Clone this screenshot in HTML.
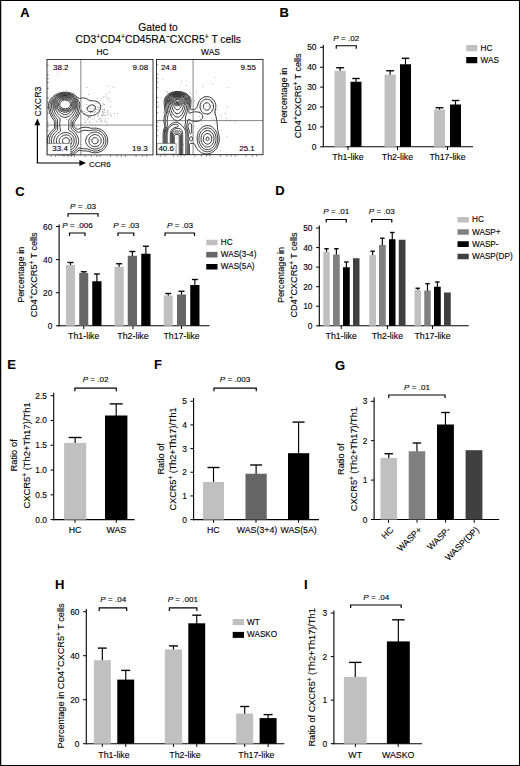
<!DOCTYPE html>
<html><head><meta charset="utf-8"><title>Figure</title>
<style>
html,body{margin:0;padding:0;background:#fff;}
body{width:520px;height:766px;overflow:hidden;font-family:"Liberation Sans",sans-serif;}
svg{display:block;font-family:"Liberation Sans",sans-serif;fill:#000;}
text{stroke:#000;stroke-width:0.12px;}
.ct path{fill:none;stroke:#000;stroke-width:0.75;}
</style></head><body>
<svg width="520" height="766" viewBox="0 0 520 766">
<rect x="0" y="0" width="520" height="766" fill="#fff"/>
<path d="M0,0H520V766H0Z M1.25,1.05H518.95V764.95H1.25Z" fill="#000" fill-rule="evenodd"/>

<text x="20.2" y="17.3" font-size="13" font-weight="bold" fill="#000" stroke="none">A</text>
<text x="279.5" y="17.1" font-size="13" font-weight="bold" fill="#000" stroke="none">B</text>
<text x="15.2" y="195.6" font-size="13" font-weight="bold" fill="#000" stroke="none">C</text>
<text x="275.3" y="195" font-size="13" font-weight="bold" fill="#000" stroke="none">D</text>
<text x="7.2" y="369.1" font-size="13" font-weight="bold" fill="#000" stroke="none">E</text>
<text x="153.9" y="369.1" font-size="13" font-weight="bold" fill="#000" stroke="none">F</text>
<text x="335.1" y="369.8" font-size="13" font-weight="bold" fill="#000" stroke="none">G</text>
<text x="55" y="588.8" font-size="13" font-weight="bold" fill="#000" stroke="none">H</text>
<text x="303.9" y="588.8" font-size="13" font-weight="bold" fill="#000" stroke="none">I</text>
<g id="A">
<text x="158.00" y="31.00" text-anchor="middle" font-size="10.3" >Gated to</text>
<text x="158.3" y="42.7" text-anchor="middle" font-size="10.3">CD3<tspan dy="-3.4" font-size="7">+</tspan><tspan dy="3.4" font-size="0.01">.</tspan>CD4<tspan dy="-3.4" font-size="7">+</tspan><tspan dy="3.4" font-size="0.01">.</tspan>CD45RA<tspan dy="-3.4" font-size="7">−</tspan><tspan dy="3.4" font-size="0.01">.</tspan>CXCR5<tspan dy="-3.4" font-size="7">+</tspan><tspan dy="3.4" font-size="0.01">.</tspan> T cells</text>
<text x="102.50" y="55.00" text-anchor="middle" font-size="8.4" >HC</text>
<text x="210.50" y="55.00" text-anchor="middle" font-size="8.4" >WAS</text>
<defs><clipPath id="cHC"><rect x="47" y="59.5" width="106" height="96"/></clipPath><clipPath id="cWAS"><rect x="156.5" y="59.5" width="106.5" height="95.5"/></clipPath></defs>
<rect x="47" y="59.5" width="106" height="96" fill="#fff"/>
<rect x="156.5" y="59.5" width="106.5" height="95.5" fill="#fff"/>
<g clip-path="url(#cHC)">
<rect x="98.2" y="114.6" width="0.7" height="0.7" fill="#666"/>
<rect x="98.4" y="107.2" width="0.7" height="0.7" fill="#666"/>
<rect x="93.5" y="108.1" width="0.7" height="0.7" fill="#666"/>
<rect x="107.8" y="113.8" width="0.7" height="0.7" fill="#666"/>
<rect x="107.3" y="112.2" width="0.7" height="0.7" fill="#666"/>
<rect x="102.8" y="111.7" width="0.7" height="0.7" fill="#666"/>
<rect x="88.3" y="117.7" width="0.7" height="0.7" fill="#666"/>
<rect x="103.5" y="114.5" width="0.7" height="0.7" fill="#666"/>
<rect x="88.2" y="94.3" width="0.7" height="0.7" fill="#666"/>
<rect x="93.8" y="105.8" width="0.7" height="0.7" fill="#666"/>
<rect x="102.1" y="109.6" width="0.7" height="0.7" fill="#666"/>
<rect x="103.6" y="104.2" width="0.7" height="0.7" fill="#666"/>
<rect x="102.2" y="113.5" width="0.7" height="0.7" fill="#666"/>
<rect x="95.4" y="125.5" width="0.7" height="0.7" fill="#666"/>
<rect x="103.9" y="120.8" width="0.7" height="0.7" fill="#666"/>
<rect x="95.7" y="103.3" width="0.7" height="0.7" fill="#666"/>
<rect x="97.6" y="109.0" width="0.7" height="0.7" fill="#666"/>
<rect x="104.4" y="112.2" width="0.7" height="0.7" fill="#666"/>
<rect x="96.9" y="101.4" width="0.7" height="0.7" fill="#666"/>
<rect x="96.4" y="121.0" width="0.7" height="0.7" fill="#666"/>
<rect x="94.3" y="112.2" width="0.7" height="0.7" fill="#666"/>
<rect x="103.0" y="96.6" width="0.7" height="0.7" fill="#666"/>
<rect x="100.3" y="121.8" width="0.7" height="0.7" fill="#666"/>
<rect x="85.9" y="107.1" width="0.7" height="0.7" fill="#666"/>
<rect x="99.3" y="102.6" width="0.7" height="0.7" fill="#666"/>
<rect x="103.5" y="109.4" width="0.7" height="0.7" fill="#666"/>
<rect x="89.7" y="117.5" width="0.7" height="0.7" fill="#666"/>
<rect x="104.7" y="118.5" width="0.7" height="0.7" fill="#666"/>
<rect x="110.1" y="113.3" width="0.7" height="0.7" fill="#666"/>
<rect x="100.8" y="98.3" width="0.7" height="0.7" fill="#666"/>
<rect x="104.3" y="104.5" width="0.7" height="0.7" fill="#666"/>
<rect x="96.8" y="98.6" width="0.7" height="0.7" fill="#666"/>
<rect x="93.2" y="105.2" width="0.7" height="0.7" fill="#666"/>
<rect x="109.0" y="91.7" width="0.7" height="0.7" fill="#666"/>
<rect x="89.8" y="112.2" width="0.7" height="0.7" fill="#666"/>
<rect x="110.1" y="115.2" width="0.7" height="0.7" fill="#666"/>
<rect x="86.7" y="87.3" width="0.7" height="0.7" fill="#666"/>
<rect x="102.5" y="103.4" width="0.7" height="0.7" fill="#666"/>
<rect x="92.2" y="118.8" width="0.7" height="0.7" fill="#666"/>
<rect x="107.7" y="111.4" width="0.7" height="0.7" fill="#666"/>
<rect x="101.7" y="113.9" width="0.7" height="0.7" fill="#666"/>
<rect x="111.2" y="115.6" width="0.7" height="0.7" fill="#666"/>
<rect x="103.6" y="114.9" width="0.7" height="0.7" fill="#666"/>
<rect x="89.0" y="121.5" width="0.7" height="0.7" fill="#666"/>
<rect x="106.7" y="114.8" width="0.7" height="0.7" fill="#666"/>
<rect x="86.2" y="104.3" width="0.7" height="0.7" fill="#666"/>
<rect x="105.9" y="93.7" width="0.7" height="0.7" fill="#666"/>
<rect x="98.7" y="119.2" width="0.7" height="0.7" fill="#666"/>
<rect x="90.8" y="124.5" width="0.7" height="0.7" fill="#666"/>
<rect x="103.9" y="108.6" width="0.7" height="0.7" fill="#666"/>
<rect x="102.3" y="115.8" width="0.7" height="0.7" fill="#666"/>
<rect x="100.8" y="120.3" width="0.7" height="0.7" fill="#666"/>
<rect x="95.4" y="106.3" width="0.7" height="0.7" fill="#666"/>
<rect x="107.3" y="110.2" width="0.7" height="0.7" fill="#666"/>
<rect x="93.8" y="118.5" width="0.7" height="0.7" fill="#666"/>
<rect x="110.3" y="106.0" width="0.7" height="0.7" fill="#666"/>
<rect x="90.3" y="108.8" width="0.7" height="0.7" fill="#666"/>
<rect x="99.0" y="107.3" width="0.7" height="0.7" fill="#666"/>
<rect x="109.8" y="100.8" width="0.7" height="0.7" fill="#666"/>
<rect x="108.8" y="98.6" width="0.7" height="0.7" fill="#666"/>
<rect x="94.5" y="115.7" width="0.7" height="0.7" fill="#666"/>
<rect x="107.9" y="117.7" width="0.7" height="0.7" fill="#666"/>
<rect x="102.4" y="111.3" width="0.7" height="0.7" fill="#666"/>
<rect x="101.1" y="115.2" width="0.7" height="0.7" fill="#666"/>
<rect x="98.8" y="112.5" width="0.7" height="0.7" fill="#666"/>
<rect x="104.0" y="110.0" width="0.7" height="0.7" fill="#666"/>
<rect x="105.3" y="115.1" width="0.7" height="0.7" fill="#666"/>
<rect x="114.1" y="112.9" width="0.7" height="0.7" fill="#666"/>
<rect x="97.0" y="106.6" width="0.7" height="0.7" fill="#666"/>
<rect x="99.9" y="118.3" width="0.7" height="0.7" fill="#666"/>
<rect x="97.6" y="113.5" width="0.7" height="0.7" fill="#666"/>
<rect x="112.9" y="86.9" width="0.7" height="0.7" fill="#666"/>
<rect x="92.1" y="112.2" width="0.7" height="0.7" fill="#666"/>
<rect x="102.8" y="112.1" width="0.7" height="0.7" fill="#666"/>
<rect x="97.0" y="115.9" width="0.7" height="0.7" fill="#666"/>
<rect x="102.0" y="105.3" width="0.7" height="0.7" fill="#666"/>
<rect x="117.0" y="113.2" width="0.7" height="0.7" fill="#666"/>
<rect x="96.1" y="109.1" width="0.7" height="0.7" fill="#666"/>
<rect x="98.4" y="109.4" width="0.7" height="0.7" fill="#666"/>
<rect x="80.9" y="105.6" width="0.7" height="0.7" fill="#666"/>
<rect x="107.1" y="99.5" width="0.7" height="0.7" fill="#666"/>
<rect x="99.5" y="118.6" width="0.7" height="0.7" fill="#666"/>
<rect x="106.0" y="123.4" width="0.7" height="0.7" fill="#666"/>
<rect x="88.1" y="106.8" width="0.7" height="0.7" fill="#666"/>
<rect x="97.6" y="115.6" width="0.7" height="0.7" fill="#666"/>
<rect x="107.6" y="85.9" width="0.7" height="0.7" fill="#666"/>
<rect x="107.6" y="97.0" width="0.7" height="0.7" fill="#666"/>
<rect x="104.8" y="96.6" width="0.7" height="0.7" fill="#666"/>
<rect x="101.2" y="120.8" width="0.7" height="0.7" fill="#666"/>
<rect x="99.0" y="111.7" width="0.7" height="0.7" fill="#666"/>
<rect x="87.2" y="118.8" width="0.7" height="0.7" fill="#666"/>
<rect x="83.6" y="127.2" width="0.7" height="0.7" fill="#666"/>
<rect x="88.2" y="116.2" width="0.7" height="0.7" fill="#666"/>
<rect x="95.0" y="111.1" width="0.7" height="0.7" fill="#666"/>
<rect x="87.7" y="116.4" width="0.7" height="0.7" fill="#666"/>
<rect x="84.5" y="122.2" width="0.7" height="0.7" fill="#666"/>
<rect x="84.9" y="121.8" width="0.7" height="0.7" fill="#666"/>
<rect x="77.9" y="108.9" width="0.7" height="0.7" fill="#666"/>
<rect x="86.5" y="112.2" width="0.7" height="0.7" fill="#666"/>
<rect x="79.9" y="109.2" width="0.7" height="0.7" fill="#666"/>
<rect x="89.1" y="122.5" width="0.7" height="0.7" fill="#666"/>
<rect x="89.9" y="112.4" width="0.7" height="0.7" fill="#666"/>
<rect x="84.0" y="111.2" width="0.7" height="0.7" fill="#666"/>
<rect x="87.1" y="127.5" width="0.7" height="0.7" fill="#666"/>
<rect x="80.4" y="127.4" width="0.7" height="0.7" fill="#666"/>
<rect x="88.0" y="116.9" width="0.7" height="0.7" fill="#666"/>
<rect x="76.1" y="126.4" width="0.7" height="0.7" fill="#666"/>
<rect x="83.6" y="114.4" width="0.7" height="0.7" fill="#666"/>
<rect x="85.6" y="120.5" width="0.7" height="0.7" fill="#666"/>
<rect x="90.0" y="111.9" width="0.7" height="0.7" fill="#666"/>
<rect x="88.5" y="126.9" width="0.7" height="0.7" fill="#666"/>
<rect x="89.8" y="116.9" width="0.7" height="0.7" fill="#666"/>
<rect x="81.0" y="124.1" width="0.7" height="0.7" fill="#666"/>
<rect x="84.5" y="118.7" width="0.7" height="0.7" fill="#666"/>
<rect x="89.7" y="116.4" width="0.7" height="0.7" fill="#666"/>
<rect x="76.3" y="105.3" width="0.7" height="0.7" fill="#666"/>
<rect x="69.8" y="140.0" width="0.7" height="0.7" fill="#666"/>
<rect x="71.6" y="151.8" width="0.7" height="0.7" fill="#666"/>
<rect x="68.8" y="145.0" width="0.7" height="0.7" fill="#666"/>
<rect x="56.6" y="141.1" width="0.7" height="0.7" fill="#666"/>
<rect x="66.2" y="119.3" width="0.7" height="0.7" fill="#666"/>
<rect x="58.2" y="125.6" width="0.7" height="0.7" fill="#666"/>
<rect x="105.8" y="121.1" width="0.7" height="0.7" fill="#666"/>
<rect x="80.6" y="144.0" width="0.7" height="0.7" fill="#666"/>
<rect x="66.0" y="89.8" width="0.7" height="0.7" fill="#666"/>
<rect x="58.9" y="145.8" width="0.7" height="0.7" fill="#666"/>
<rect x="90.1" y="139.0" width="0.7" height="0.7" fill="#666"/>
<rect x="70.2" y="139.3" width="0.7" height="0.7" fill="#666"/>
<rect x="73.3" y="91.7" width="0.7" height="0.7" fill="#666"/>
<rect x="88.5" y="106.4" width="0.7" height="0.7" fill="#666"/>
<rect x="52.0" y="101.5" width="0.7" height="0.7" fill="#666"/>
<rect x="57.2" y="73.4" width="0.7" height="0.7" fill="#666"/>
<rect x="84.5" y="113.4" width="0.7" height="0.7" fill="#666"/>
<g class="ct">
<path d="M68.5,156.0 L65.0,156.2 L61.5,155.7 L58.0,154.7 L54.5,152.9 L53.0,151.8 L51.6,150.5 L49.5,148.0 L48.7,146.5 L48.1,145.0 L47.4,142.0 L47.4,140.5 L47.6,138.5 L48.1,136.5 L48.7,135.0 L50.6,132.0 L54.1,128.5 L54.3,128.0 L54.6,127.0 L54.5,122.5 L54.3,121.0 L51.9,117.5 L50.8,115.5 L49.7,113.0 L49.1,110.5 L48.7,108.0 L48.5,105.5 L48.7,103.5 L49.2,102.0 L49.8,100.5 L51.1,98.5 L52.5,97.0 L54.5,95.4 L56.5,94.2 L58.5,93.3 L60.5,92.7 L63.5,92.2 L67.5,92.3 L69.5,92.6 L71.5,93.3 L74.5,94.8 L76.0,96.0 L78.0,97.9 L79.0,98.4 L79.5,98.4 L82.5,97.9 L85.0,98.1 L87.0,98.9 L89.0,100.2 L90.0,100.7 L93.5,100.8 L95.5,101.1 L97.5,101.9 L99.0,103.0 L100.1,104.5 L100.6,106.0 L100.7,107.5 L100.3,109.5 L99.5,111.0 L98.0,112.7 L96.3,114.0 L94.5,114.9 L92.5,115.6 L90.5,115.8 L88.5,115.8 L86.5,115.3 L85.0,114.6 L84.0,113.9 L82.7,112.5 L81.5,110.5 L81.0,110.4 L80.5,111.1 L77.6,117.5 L76.3,119.5 L74.5,121.7 L74.1,122.5 L73.9,124.0 L74.0,126.4 L74.3,127.0 L75.0,127.8 L76.5,128.9 L77.5,129.3 L78.5,129.1 L80.5,128.2 L82.0,127.6 L85.0,127.2 L87.5,127.4 L91.0,128.3 L94.5,128.1 L96.5,128.2 L98.5,128.6 L100.0,129.1 L101.5,129.9 L103.0,130.9 L104.2,132.0 L105.4,133.5 L106.3,135.0 L107.0,136.5 L107.4,138.0 L107.7,140.0 L107.7,142.0 L107.4,143.5 L106.7,145.5 L105.9,147.0 L104.7,148.5 L103.5,149.7 L102.0,150.8 L100.0,151.8 L97.0,152.7 L94.0,152.8 L91.5,152.3 L88.0,151.1 L83.5,151.0 L80.0,150.3 L79.0,150.3 L78.0,150.8 L75.5,153.1 L73.5,154.4 L71.0,155.4 L68.5,156.0"/>
<path d="M68.0,154.6 L64.5,154.6 L61.0,154.0 L58.0,153.0 L55.0,151.3 L52.9,149.5 L50.9,147.0 L49.8,144.5 L49.4,143.0 L49.2,141.5 L49.5,138.5 L49.9,137.0 L50.5,135.5 L51.3,134.0 L52.4,132.5 L55.5,129.5 L55.8,129.0 L56.0,128.0 L55.9,121.5 L55.7,120.5 L55.2,119.5 L53.5,117.2 L52.2,115.0 L51.1,112.5 L50.4,110.0 L50.1,107.5 L50.0,105.5 L50.1,104.0 L50.5,102.5 L51.3,100.5 L52.3,99.0 L53.7,97.5 L55.5,96.0 L57.5,94.8 L59.5,94.0 L62.0,93.3 L64.0,93.1 L66.5,93.1 L69.0,93.5 L71.5,94.3 L73.5,95.3 L75.5,96.9 L77.0,98.5 L78.7,101.0 L79.6,103.0 L79.8,104.5 L79.7,106.0 L78.7,111.0 L77.9,113.5 L76.2,117.0 L75.0,118.8 L73.1,121.0 L72.7,122.0 L72.6,127.0 L73.0,128.0 L73.4,128.5 L77.5,132.0 L78.5,132.4 L79.0,132.3 L82.0,130.8 L84.0,130.3 L86.0,130.3 L89.5,130.8 L93.0,130.1 L95.0,129.9 L97.0,130.1 L98.5,130.5 L100.0,131.1 L101.4,132.0 L103.5,134.0 L104.5,135.5 L105.2,137.0 L105.7,138.5 L105.9,140.0 L105.9,141.5 L105.6,143.0 L105.2,144.5 L104.4,146.0 L103.3,147.5 L102.0,148.7 L100.5,149.7 L99.0,150.4 L96.5,151.0 L93.5,151.0 L91.5,150.5 L87.5,148.9 L83.5,148.8 L82.0,148.6 L80.0,148.0 L79.0,147.9 L78.0,148.5 L75.6,151.0 L73.5,152.6 L71.0,153.8 L68.0,154.6"/>
<path d="M92.0,111.5 L90.0,111.6 L88.5,111.1 L87.5,110.2 L87.1,109.0 L87.4,107.5 L88.1,106.5 L89.5,105.5 L91.5,104.9 L93.0,105.0 L94.1,105.5 L95.2,106.5 L95.5,107.5 L95.2,109.0 L94.6,110.0 L93.5,110.9 L92.0,111.5"/>
<path d="M66.5,153.0 L63.5,152.8 L60.5,152.1 L58.0,151.0 L55.7,149.5 L53.7,147.5 L52.4,145.5 L51.6,143.5 L51.3,141.0 L51.4,139.5 L51.7,138.0 L52.8,135.5 L54.5,133.1 L57.3,130.5 L57.6,130.0 L57.7,129.0 L57.4,125.0 L57.5,120.0 L57.1,119.0 L55.1,116.5 L54.1,115.0 L53.3,113.5 L52.5,111.5 L51.9,109.0 L51.5,106.5 L51.5,104.5 L51.8,102.5 L52.7,100.5 L53.6,99.0 L55.0,97.5 L56.5,96.3 L58.5,95.2 L60.5,94.5 L63.0,93.9 L65.0,93.8 L67.5,94.0 L70.0,94.6 L72.0,95.4 L74.0,96.7 L75.8,98.5 L77.1,100.5 L77.8,102.5 L78.1,104.5 L78.0,106.5 L77.6,109.0 L77.0,111.5 L76.3,113.5 L75.5,115.1 L74.5,116.7 L72.0,119.5 L71.3,120.5 L71.1,121.5 L71.0,127.5 L71.1,128.5 L71.3,129.0 L75.0,132.2 L76.0,133.5 L77.2,135.5 L78.2,138.0 L78.5,139.5 L78.6,141.5 L78.4,143.0 L77.8,145.0 L76.7,147.0 L75.5,148.7 L74.0,150.2 L72.5,151.3 L70.5,152.2 L68.5,152.8 L66.5,153.0"/>
<path d="M96.0,149.0 L94.0,149.0 L92.5,148.7 L91.0,148.2 L89.5,147.3 L88.0,146.0 L86.8,144.5 L86.0,143.0 L85.7,141.5 L85.7,140.0 L86.2,138.0 L86.7,137.0 L87.7,135.5 L89.0,134.3 L90.5,133.2 L92.1,132.5 L94.0,132.1 L96.0,132.1 L97.5,132.4 L99.0,133.0 L100.5,133.9 L101.6,135.0 L102.7,136.5 L103.3,138.0 L103.8,140.0 L103.8,141.5 L103.5,143.0 L102.9,144.5 L101.8,146.0 L100.8,147.0 L99.3,148.0 L97.5,148.7 L96.0,149.0"/>
<path d="M66.5,151.0 L64.5,150.9 L62.5,150.6 L60.5,149.9 L58.7,149.0 L57.3,148.0 L55.8,146.5 L54.8,145.0 L54.2,143.5 L53.8,142.0 L53.8,140.5 L54.1,138.5 L54.7,137.0 L55.6,135.5 L56.5,134.4 L57.5,133.4 L60.0,131.5 L60.4,131.0 L60.5,130.0 L60.0,127.4 L59.7,125.0 L59.8,122.5 L60.1,120.0 L60.0,119.0 L59.4,118.0 L56.9,115.5 L55.2,113.0 L54.3,111.0 L53.3,108.0 L52.8,105.0 L52.9,103.0 L53.6,101.0 L54.5,99.5 L56.0,97.9 L57.9,96.5 L60.0,95.5 L62.5,94.8 L65.0,94.6 L67.5,94.8 L69.5,95.3 L71.5,96.1 L73.5,97.4 L75.0,99.0 L76.0,100.5 L76.7,102.5 L77.0,104.5 L76.9,106.0 L76.4,108.0 L75.0,111.9 L74.3,113.5 L72.5,116.1 L71.5,117.2 L69.3,119.0 L69.0,119.5 L68.8,120.5 L68.9,125.0 L68.5,129.0 L68.7,130.0 L69.0,130.4 L71.5,131.9 L72.9,133.0 L74.0,134.2 L75.0,135.7 L75.8,137.5 L76.2,139.5 L76.3,141.5 L76.1,143.0 L75.7,144.5 L75.0,146.0 L73.9,147.5 L72.5,148.9 L71.0,149.8 L69.5,150.5 L68.0,150.9 L66.5,151.0"/>
<path d="M96.0,146.6 L94.5,146.6 L93.5,146.5 L92.5,146.1 L91.3,145.5 L90.2,144.5 L89.5,143.5 L88.9,141.5 L88.9,140.0 L89.1,139.0 L89.5,138.0 L90.1,137.0 L91.0,136.1 L91.8,135.5 L93.0,134.9 L94.0,134.7 L95.5,134.6 L96.5,134.8 L98.5,135.7 L99.5,136.5 L100.2,137.5 L100.8,138.5 L101.1,140.0 L101.2,141.0 L101.0,142.2 L100.5,143.5 L100.0,144.2 L99.0,145.2 L98.0,145.9 L96.0,146.6"/>
<path d="M67.0,117.1 L65.0,117.4 L63.5,117.2 L61.5,116.4 L59.5,115.0 L58.0,113.4 L56.0,110.4 L54.9,108.5 L54.1,106.5 L53.9,104.5 L54.0,103.0 L54.5,101.5 L55.3,100.0 L56.5,98.7 L58.0,97.5 L60.0,96.4 L62.0,95.8 L64.0,95.5 L66.5,95.5 L68.5,95.8 L70.5,96.5 L72.2,97.5 L73.9,99.0 L74.9,100.5 L75.7,102.5 L76.0,104.5 L75.7,106.5 L75.2,108.0 L74.0,110.2 L72.0,113.4 L70.6,115.0 L69.0,116.2 L67.0,117.1"/>
<path d="M68.5,148.6 L67.0,148.9 L65.0,148.9 L63.0,148.5 L61.5,148.0 L60.0,147.1 L58.6,146.0 L57.7,145.0 L56.9,143.5 L56.5,142.0 L56.4,140.5 L56.7,139.0 L57.3,137.5 L58.3,136.0 L59.3,135.0 L60.5,134.1 L62.0,133.4 L64.0,132.7 L65.5,132.5 L67.5,132.7 L69.0,133.1 L70.5,133.9 L71.5,134.6 L72.7,136.0 L73.5,137.5 L74.0,139.0 L74.2,141.0 L74.1,142.5 L73.5,144.3 L72.5,145.9 L71.5,147.0 L70.0,148.0 L68.5,148.6"/>
<path d="M96.0,143.7 L94.5,143.8 L93.5,143.5 L92.5,142.7 L91.9,141.5 L91.9,140.0 L92.3,139.0 L93.0,138.3 L94.0,137.7 L95.5,137.6 L96.5,137.9 L97.5,138.8 L98.0,139.6 L98.2,141.0 L97.9,142.0 L97.2,143.0 L96.0,143.7"/>
<path d="M66.0,114.6 L64.5,114.6 L63.0,114.2 L61.5,113.5 L60.0,112.4 L58.0,110.6 L56.5,108.9 L55.5,107.2 L55.0,105.5 L54.9,104.0 L55.2,102.5 L55.9,101.0 L57.0,99.5 L58.5,98.2 L60.0,97.4 L61.5,96.8 L63.5,96.3 L65.5,96.2 L67.5,96.4 L69.4,97.0 L71.0,97.8 L72.6,99.0 L73.8,100.5 L74.6,102.0 L74.9,103.5 L75.0,105.0 L74.7,106.5 L74.1,108.0 L73.0,109.6 L71.5,111.2 L69.0,113.3 L67.5,114.2 L66.0,114.6"/>
<path d="M67.5,146.6 L66.5,146.7 L65.0,146.6 L63.5,146.2 L62.5,145.8 L60.7,144.5 L59.9,143.5 L59.4,142.5 L59.2,141.5 L59.2,140.5 L59.4,139.5 L59.8,138.5 L60.5,137.5 L61.5,136.5 L63.5,135.4 L65.0,135.0 L66.0,134.9 L67.5,135.1 L68.5,135.4 L69.5,136.0 L70.5,136.9 L71.2,138.0 L71.7,139.0 L71.9,140.0 L72.0,141.5 L71.4,143.5 L70.8,144.5 L69.8,145.5 L68.5,146.2 L67.5,146.6"/>
<path d="M67.0,112.1 L65.5,112.3 L64.0,112.2 L62.5,111.8 L61.0,111.2 L59.5,110.3 L58.5,109.5 L57.5,108.5 L56.6,107.0 L56.2,106.0 L56.0,104.5 L56.2,103.0 L56.5,102.0 L57.5,100.5 L58.4,99.5 L59.5,98.7 L60.8,98.0 L62.5,97.4 L64.5,97.1 L66.5,97.2 L68.5,97.6 L70.0,98.3 L71.5,99.3 L72.6,100.5 L73.5,102.0 L73.9,103.5 L73.9,105.0 L73.6,106.5 L72.9,108.0 L72.0,109.2 L70.5,110.5 L69.0,111.4 L67.0,112.1"/>
<path d="M67.0,144.1 L66.0,144.2 L64.5,143.8 L63.2,143.0 L62.6,142.0 L62.4,140.5 L62.8,139.5 L63.5,138.6 L64.5,138.0 L66.0,137.6 L67.0,137.8 L68.4,138.5 L69.1,139.5 L69.4,141.0 L69.0,142.5 L68.2,143.5 L67.0,144.1"/>
<path d="M65.5,111.0 L64.0,110.9 L62.5,110.6 L61.0,110.0 L60.0,109.4 L59.0,108.5 L58.2,107.5 L57.6,106.5 L57.2,105.0 L57.3,103.5 L57.6,102.5 L58.1,101.5 L59.0,100.4 L60.1,99.5 L61.5,98.7 L63.0,98.3 L64.5,98.0 L66.0,98.0 L67.5,98.3 L69.0,98.8 L70.2,99.5 L71.3,100.5 L72.1,101.5 L72.5,102.5 L72.9,104.0 L72.8,105.5 L72.5,106.5 L72.0,107.5 L71.0,108.7 L70.0,109.6 L68.5,110.4 L67.0,110.8 L65.5,111.0"/>
<path d="M67.5,109.6 L65.5,110.0 L63.0,109.6 L61.0,108.7 L59.5,107.4 L58.7,106.0 L58.5,105.0 L58.4,104.0 L58.7,103.0 L59.1,102.0 L60.5,100.5 L61.5,99.9 L63.0,99.3 L64.5,99.0 L66.0,99.0 L67.5,99.3 L68.5,99.7 L69.8,100.5 L70.7,101.5 L71.3,102.5 L71.6,103.5 L71.7,105.0 L71.5,106.0 L71.0,107.0 L70.0,108.2 L68.9,109.0 L67.5,109.6"/>
<path d="M67.0,108.6 L65.5,108.9 L63.5,108.6 L62.0,108.0 L60.5,106.6 L59.9,105.5 L59.8,104.0 L60.3,102.5 L61.5,101.2 L62.5,100.6 L63.5,100.3 L65.0,100.0 L66.0,100.1 L68.0,100.7 L69.0,101.4 L69.6,102.0 L70.2,103.0 L70.5,104.0 L70.4,105.0 L70.1,106.0 L69.0,107.5 L68.0,108.2 L67.0,108.6"/>
</g></g>
<g clip-path="url(#cWAS)">
<rect x="210.9" y="102.5" width="0.7" height="0.7" fill="#666"/>
<rect x="215.8" y="117.0" width="0.7" height="0.7" fill="#666"/>
<rect x="214.7" y="111.9" width="0.7" height="0.7" fill="#666"/>
<rect x="221.3" y="115.9" width="0.7" height="0.7" fill="#666"/>
<rect x="212.5" y="83.0" width="0.7" height="0.7" fill="#666"/>
<rect x="217.0" y="123.7" width="0.7" height="0.7" fill="#666"/>
<rect x="205.0" y="102.4" width="0.7" height="0.7" fill="#666"/>
<rect x="227.4" y="86.9" width="0.7" height="0.7" fill="#666"/>
<rect x="212.7" y="137.1" width="0.7" height="0.7" fill="#666"/>
<rect x="198.7" y="116.3" width="0.7" height="0.7" fill="#666"/>
<rect x="226.9" y="106.6" width="0.7" height="0.7" fill="#666"/>
<rect x="213.6" y="118.8" width="0.7" height="0.7" fill="#666"/>
<rect x="198.9" y="106.9" width="0.7" height="0.7" fill="#666"/>
<rect x="210.9" y="117.9" width="0.7" height="0.7" fill="#666"/>
<rect x="207.7" y="105.7" width="0.7" height="0.7" fill="#666"/>
<rect x="197.8" y="103.7" width="0.7" height="0.7" fill="#666"/>
<rect x="216.9" y="109.2" width="0.7" height="0.7" fill="#666"/>
<rect x="199.5" y="97.9" width="0.7" height="0.7" fill="#666"/>
<rect x="234.7" y="121.7" width="0.7" height="0.7" fill="#666"/>
<rect x="214.4" y="76.9" width="0.7" height="0.7" fill="#666"/>
<rect x="214.2" y="113.8" width="0.7" height="0.7" fill="#666"/>
<rect x="224.8" y="113.1" width="0.7" height="0.7" fill="#666"/>
<rect x="207.3" y="114.3" width="0.7" height="0.7" fill="#666"/>
<rect x="188.6" y="120.4" width="0.7" height="0.7" fill="#666"/>
<rect x="211.2" y="99.6" width="0.7" height="0.7" fill="#666"/>
<rect x="221.3" y="129.7" width="0.7" height="0.7" fill="#666"/>
<rect x="194.0" y="100.0" width="0.7" height="0.7" fill="#666"/>
<rect x="210.9" y="110.2" width="0.7" height="0.7" fill="#666"/>
<rect x="204.0" y="96.3" width="0.7" height="0.7" fill="#666"/>
<rect x="229.2" y="120.4" width="0.7" height="0.7" fill="#666"/>
<rect x="196.1" y="91.9" width="0.7" height="0.7" fill="#666"/>
<rect x="225.0" y="119.9" width="0.7" height="0.7" fill="#666"/>
<rect x="226.2" y="117.7" width="0.7" height="0.7" fill="#666"/>
<rect x="199.3" y="111.1" width="0.7" height="0.7" fill="#666"/>
<rect x="186.4" y="99.0" width="0.7" height="0.7" fill="#666"/>
<rect x="207.4" y="114.3" width="0.7" height="0.7" fill="#666"/>
<rect x="200.7" y="106.5" width="0.7" height="0.7" fill="#666"/>
<rect x="212.6" y="112.5" width="0.7" height="0.7" fill="#666"/>
<rect x="214.4" y="110.5" width="0.7" height="0.7" fill="#666"/>
<rect x="204.8" y="117.5" width="0.7" height="0.7" fill="#666"/>
<rect x="168.2" y="96.7" width="0.7" height="0.7" fill="#666"/>
<rect x="164.9" y="105.0" width="0.7" height="0.7" fill="#666"/>
<rect x="167.5" y="106.6" width="0.7" height="0.7" fill="#666"/>
<rect x="168.0" y="106.8" width="0.7" height="0.7" fill="#666"/>
<rect x="167.3" y="92.4" width="0.7" height="0.7" fill="#666"/>
<rect x="170.1" y="115.5" width="0.7" height="0.7" fill="#666"/>
<rect x="170.2" y="103.1" width="0.7" height="0.7" fill="#666"/>
<rect x="170.2" y="95.3" width="0.7" height="0.7" fill="#666"/>
<rect x="158.5" y="105.6" width="0.7" height="0.7" fill="#666"/>
<rect x="163.3" y="112.4" width="0.7" height="0.7" fill="#666"/>
<rect x="162.6" y="78.7" width="0.7" height="0.7" fill="#666"/>
<rect x="162.8" y="120.8" width="0.7" height="0.7" fill="#666"/>
<rect x="166.1" y="91.3" width="0.7" height="0.7" fill="#666"/>
<rect x="164.2" y="110.2" width="0.7" height="0.7" fill="#666"/>
<rect x="170.5" y="106.8" width="0.7" height="0.7" fill="#666"/>
<rect x="175.4" y="112.1" width="0.7" height="0.7" fill="#666"/>
<rect x="167.9" y="111.0" width="0.7" height="0.7" fill="#666"/>
<rect x="176.3" y="114.7" width="0.7" height="0.7" fill="#666"/>
<rect x="173.1" y="94.2" width="0.7" height="0.7" fill="#666"/>
<rect x="167.3" y="112.3" width="0.7" height="0.7" fill="#666"/>
<rect x="166.5" y="115.7" width="0.7" height="0.7" fill="#666"/>
<rect x="171.0" y="114.1" width="0.7" height="0.7" fill="#666"/>
<rect x="166.9" y="130.5" width="0.7" height="0.7" fill="#666"/>
<rect x="174.2" y="102.8" width="0.7" height="0.7" fill="#666"/>
<rect x="168.5" y="131.0" width="0.7" height="0.7" fill="#666"/>
<rect x="183.1" y="144.2" width="0.7" height="0.7" fill="#666"/>
<rect x="209.6" y="125.1" width="0.7" height="0.7" fill="#666"/>
<rect x="166.7" y="129.1" width="0.7" height="0.7" fill="#666"/>
<rect x="197.2" y="149.9" width="0.7" height="0.7" fill="#666"/>
<rect x="205.7" y="125.5" width="0.7" height="0.7" fill="#666"/>
<rect x="207.1" y="136.9" width="0.7" height="0.7" fill="#666"/>
<rect x="194.1" y="126.2" width="0.7" height="0.7" fill="#666"/>
<rect x="185.1" y="140.1" width="0.7" height="0.7" fill="#666"/>
<rect x="168.9" y="111.2" width="0.7" height="0.7" fill="#666"/>
<rect x="190.1" y="92.8" width="0.7" height="0.7" fill="#666"/>
<rect x="181.3" y="80.8" width="0.7" height="0.7" fill="#666"/>
<rect x="176.3" y="137.5" width="0.7" height="0.7" fill="#666"/>
<rect x="201.3" y="123.8" width="0.7" height="0.7" fill="#666"/>
<rect x="185.4" y="93.8" width="0.7" height="0.7" fill="#666"/>
<rect x="226.6" y="136.4" width="0.7" height="0.7" fill="#666"/>
<rect x="211.9" y="105.6" width="0.7" height="0.7" fill="#666"/>
<rect x="186.3" y="85.0" width="0.7" height="0.7" fill="#666"/>
<rect x="205.6" y="145.6" width="0.7" height="0.7" fill="#666"/>
<rect x="202.6" y="86.2" width="0.7" height="0.7" fill="#666"/>
<rect x="177.4" y="94.1" width="0.7" height="0.7" fill="#666"/>
<rect x="190.6" y="130.5" width="0.7" height="0.7" fill="#666"/>
<rect x="202.7" y="140.4" width="0.7" height="0.7" fill="#666"/>
<rect x="220.1" y="150.6" width="0.7" height="0.7" fill="#666"/>
<g class="ct">
<path d="M169.0,165.5 L167.0,165.3 L166.0,164.8 L164.9,164.0 L164.1,163.0 L163.6,162.0 L163.3,161.0 L163.1,159.5 L163.1,133.0 L163.6,130.0 L164.5,127.5 L164.7,126.5 L164.0,122.5 L163.9,120.0 L164.2,117.0 L165.1,113.5 L165.2,112.5 L164.3,106.0 L164.2,102.0 L164.3,100.5 L164.7,99.0 L165.6,97.0 L167.0,95.3 L169.0,93.7 L171.0,92.6 L174.0,91.7 L177.0,91.4 L180.5,91.6 L183.0,92.2 L185.5,93.2 L187.0,94.1 L188.7,95.5 L189.9,97.0 L190.6,98.5 L190.8,99.5 L191.0,101.0 L190.6,108.5 L190.9,109.5 L191.5,109.7 L193.0,109.6 L195.0,109.1 L196.0,108.6 L196.5,108.1 L197.0,107.1 L198.3,103.0 L199.3,101.0 L200.9,99.0 L202.5,97.8 L204.5,96.9 L207.0,96.6 L209.5,97.0 L211.5,98.0 L213.0,99.3 L214.3,101.0 L215.1,102.5 L215.7,104.5 L215.9,106.0 L215.8,107.5 L215.0,111.5 L215.0,113.0 L216.0,116.6 L216.7,120.0 L217.2,123.5 L217.6,129.5 L218.8,134.5 L219.2,137.0 L219.3,140.0 L218.8,143.0 L217.8,146.0 L216.8,148.0 L215.7,149.5 L214.5,150.8 L213.0,151.9 L211.5,152.8 L210.0,153.4 L208.0,153.9 L206.0,154.0 L204.5,153.8 L203.0,153.4 L201.5,152.7 L200.0,151.7 L199.0,150.9 L197.7,149.5 L196.6,148.0 L194.5,144.0 L194.0,143.4 L193.5,143.3 L190.0,143.7 L189.5,144.5 L189.4,145.5 L189.4,159.0 L189.3,160.5 L189.0,161.5 L188.6,162.5 L188.0,163.3 L186.5,164.4 L185.0,164.9 L183.0,164.8 L181.5,164.1 L180.5,163.2 L179.8,162.0 L179.3,160.5 L179.2,158.5 L179.2,137.0 L179.1,135.5 L178.9,135.0 L178.5,134.7 L178.0,134.5 L176.0,134.5 L175.0,134.7 L174.5,135.3 L174.3,136.5 L174.3,158.5 L174.1,161.0 L173.6,162.5 L172.5,164.0 L171.5,164.8 L170.5,165.2 L169.0,165.5"/>
<path d="M191.1,133.5 L191.5,133.0 L191.7,132.5 L191.6,125.0 L191.3,124.0 L190.9,123.5 L190.0,123.1 L189.5,123.1 L189.0,123.4 L188.5,124.3 L188.0,126.0 L187.9,127.0 L189.2,130.5 L189.6,132.5 L189.9,133.5 L190.5,133.7 L191.1,133.5"/>
<path d="M170.5,164.1 L169.5,164.4 L168.5,164.5 L167.5,164.3 L166.5,163.9 L165.5,163.1 L165.0,162.5 L164.5,161.5 L164.2,160.0 L164.2,133.0 L164.7,130.0 L165.9,126.5 L165.9,125.5 L165.3,122.5 L165.2,120.0 L165.5,117.5 L166.5,113.0 L165.6,106.0 L165.4,102.5 L165.4,100.5 L165.9,98.5 L166.7,97.0 L168.0,95.5 L170.0,94.1 L172.0,93.2 L174.5,92.5 L177.0,92.2 L179.5,92.3 L182.5,92.9 L185.5,94.2 L186.8,95.0 L187.9,96.0 L188.7,97.0 L189.3,98.0 L189.8,99.5 L190.0,101.0 L188.9,110.5 L188.9,112.0 L189.1,113.0 L189.5,113.3 L192.5,112.2 L194.5,111.8 L197.0,111.9 L199.0,112.3 L201.0,113.2 L201.9,114.0 L202.6,115.5 L202.7,117.0 L202.2,118.5 L201.0,119.8 L199.5,120.7 L197.5,121.3 L195.5,121.5 L193.0,121.2 L191.5,120.7 L189.0,119.3 L188.5,119.2 L188.0,119.8 L186.5,126.5 L186.7,127.5 L187.9,131.0 L188.5,136.3 L189.0,138.5 L188.9,139.5 L188.5,141.3 L188.3,144.0 L188.2,159.5 L188.0,161.0 L187.5,162.0 L186.6,163.0 L185.5,163.6 L184.0,163.8 L182.5,163.3 L181.5,162.6 L181.1,162.0 L180.5,160.5 L180.4,158.5 L180.4,136.0 L180.1,134.0 L179.5,133.2 L179.0,133.0 L175.0,133.0 L174.5,133.1 L173.9,133.5 L173.4,134.5 L173.3,136.0 L173.2,160.0 L172.9,161.5 L172.4,162.5 L171.5,163.5 L170.5,164.1"/>
<path d="M209.0,113.5 L207.5,113.9 L206.0,113.9 L204.5,113.6 L203.1,113.0 L202.4,112.5 L201.6,111.5 L200.5,109.0 L200.1,107.5 L200.1,106.0 L200.3,104.5 L200.9,103.0 L201.5,102.0 L202.5,100.9 L203.7,100.0 L205.0,99.4 L206.0,99.2 L207.5,99.2 L208.8,99.5 L210.0,100.0 L211.3,101.0 L212.1,102.0 L212.7,103.0 L213.3,104.5 L213.5,106.0 L213.5,107.5 L213.1,109.0 L212.7,110.0 L212.0,111.2 L211.0,112.3 L210.0,113.0 L209.0,113.5"/>
<path d="M209.5,151.6 L207.5,151.8 L205.5,151.6 L203.5,150.8 L201.5,149.4 L199.8,147.5 L198.6,145.5 L197.7,143.0 L197.2,140.5 L197.1,138.0 L197.4,135.5 L198.2,132.5 L199.3,130.5 L200.8,128.5 L202.5,127.1 L204.5,126.1 L206.5,125.6 L208.5,125.6 L210.5,126.1 L212.5,127.2 L213.9,128.5 L215.5,130.5 L216.5,132.5 L217.2,134.5 L217.7,137.0 L217.8,139.5 L217.5,142.0 L216.7,144.5 L215.8,146.5 L214.5,148.3 L213.0,149.8 L211.5,150.8 L209.5,151.6"/>
<path d="M192.0,140.7 L191.5,141.0 L191.0,141.0 L190.5,140.7 L189.8,140.0 L189.5,139.2 L189.2,139.0 L189.3,138.5 L189.5,138.4 L189.9,137.5 L190.5,136.9 L191.0,136.6 L191.5,136.6 L192.0,136.9 L192.6,138.0 L192.6,139.5 L192.0,140.7"/>
<path d="M169.0,163.5 L167.5,163.3 L166.2,162.5 L165.8,162.0 L165.3,161.0 L165.1,159.5 L165.1,133.0 L165.6,130.0 L167.6,125.5 L167.6,124.5 L167.2,122.0 L167.2,120.0 L167.4,118.0 L168.1,115.0 L168.2,114.0 L167.0,107.0 L166.4,101.5 L166.4,100.0 L166.9,98.5 L167.7,97.0 L169.2,95.5 L171.0,94.4 L173.0,93.5 L175.0,93.1 L177.5,92.9 L180.0,93.1 L181.5,93.4 L183.5,94.0 L185.0,94.7 L186.2,95.5 L187.3,96.5 L188.1,97.5 L188.6,98.5 L189.0,100.0 L189.0,101.5 L188.4,104.5 L187.5,110.0 L186.9,112.5 L185.5,117.0 L185.6,122.0 L184.9,125.5 L185.1,127.0 L186.7,130.5 L187.1,133.0 L187.2,139.0 L187.1,160.0 L186.8,161.0 L186.0,162.0 L185.5,162.4 L184.5,162.6 L183.5,162.5 L182.6,162.0 L182.0,161.3 L181.6,160.5 L181.5,158.5 L181.4,135.0 L181.3,133.5 L181.0,132.2 L180.5,131.5 L179.5,130.9 L174.5,131.1 L173.5,131.5 L173.0,132.1 L172.6,133.0 L172.4,134.0 L172.4,158.5 L172.2,160.5 L171.9,161.5 L171.2,162.5 L170.0,163.3 L169.0,163.5"/>
<path d="M208.0,110.0 L206.5,110.3 L205.0,109.7 L204.0,108.7 L203.5,107.5 L203.4,106.0 L203.9,104.5 L204.7,103.5 L206.0,102.8 L207.5,102.8 L208.5,103.2 L209.5,104.1 L210.1,105.5 L210.2,107.0 L210.0,108.0 L209.0,109.4 L208.0,110.0"/>
<path d="M208.5,149.6 L206.5,149.6 L205.0,149.2 L203.5,148.4 L202.0,147.1 L200.8,145.5 L199.8,143.5 L199.2,141.5 L198.9,139.5 L199.0,137.5 L199.3,135.5 L200.0,133.5 L201.0,131.7 L202.0,130.5 L203.5,129.2 L205.0,128.4 L207.0,128.0 L208.5,128.0 L210.0,128.4 L211.5,129.2 L213.0,130.5 L214.2,132.0 L215.2,134.0 L215.8,136.0 L216.0,138.0 L216.0,140.0 L215.7,142.0 L215.0,144.0 L214.0,145.9 L213.0,147.1 L211.5,148.4 L210.0,149.2 L208.5,149.6"/>
<path d="M178.5,120.6 L177.5,120.7 L176.5,120.6 L174.5,119.8 L173.0,118.6 L171.6,116.5 L170.2,113.5 L169.2,110.5 L167.4,101.0 L167.5,99.5 L167.8,98.5 L168.8,97.0 L169.8,96.0 L171.4,95.0 L173.0,94.3 L174.5,93.9 L176.5,93.6 L179.0,93.6 L181.0,93.9 L183.0,94.6 L184.5,95.3 L186.0,96.4 L187.0,97.5 L187.8,99.0 L188.1,100.5 L187.9,102.0 L186.8,105.5 L185.8,110.5 L184.3,114.5 L183.0,116.9 L181.5,118.8 L180.0,120.0 L178.5,120.6"/>
<path d="M170.0,162.1 L169.0,162.4 L168.0,162.3 L167.5,162.1 L166.5,161.1 L166.2,160.0 L166.1,135.0 L166.3,131.5 L166.9,129.5 L168.0,127.5 L169.5,125.6 L171.0,124.1 L172.5,123.1 L173.5,122.7 L175.5,122.2 L177.0,122.3 L178.0,122.6 L179.0,123.3 L181.0,124.7 L182.5,126.0 L184.5,128.7 L185.1,130.0 L185.6,131.5 L185.9,135.0 L185.8,159.5 L185.5,160.5 L185.0,161.0 L184.5,161.2 L184.0,161.2 L183.5,160.9 L183.0,160.3 L182.8,159.5 L182.7,134.5 L182.4,132.0 L181.8,130.5 L180.5,129.0 L179.0,128.3 L178.0,128.3 L175.0,128.9 L173.5,129.6 L172.2,131.0 L171.6,132.5 L171.3,135.0 L171.3,159.0 L171.2,160.0 L170.9,161.0 L170.0,162.1"/>
<path d="M208.0,147.0 L206.5,147.0 L205.5,146.7 L204.3,146.0 L203.2,145.0 L202.4,144.0 L201.7,142.5 L201.2,141.0 L201.0,139.0 L201.1,137.5 L201.5,135.6 L202.0,134.4 L202.9,133.0 L204.0,131.8 L205.0,131.2 L206.0,130.8 L207.5,130.5 L209.0,130.8 L210.0,131.2 L211.0,131.8 L212.0,132.8 L212.8,134.0 L213.5,135.5 L213.9,137.0 L214.0,138.5 L213.9,140.0 L213.7,141.5 L213.1,143.0 L212.5,144.1 L211.5,145.3 L210.5,146.1 L209.5,146.7 L208.0,147.0"/>
<path d="M178.0,117.1 L176.5,117.0 L175.0,116.3 L173.5,115.0 L172.5,113.6 L171.0,110.3 L169.8,105.5 L168.6,102.5 L168.3,101.0 L168.4,99.5 L168.8,98.5 L169.5,97.5 L170.5,96.5 L172.0,95.5 L173.5,94.8 L175.0,94.4 L177.0,94.2 L179.0,94.3 L180.5,94.5 L182.5,95.1 L184.0,95.9 L185.5,97.0 L186.3,98.0 L186.8,99.0 L187.1,100.5 L187.0,101.5 L186.8,102.5 L185.2,105.5 L184.1,110.0 L182.8,113.0 L181.9,114.5 L180.5,115.9 L179.5,116.6 L178.0,117.1"/>
<path d="M169.0,161.1 L168.0,161.0 L167.5,160.5 L167.2,159.0 L167.1,134.5 L167.4,131.5 L167.9,130.0 L168.6,128.5 L169.5,127.3 L170.9,126.0 L172.5,125.0 L174.0,124.4 L175.5,124.2 L176.5,124.3 L177.5,124.8 L178.1,125.5 L178.2,126.0 L177.9,126.5 L177.0,127.0 L174.0,127.9 L172.5,128.9 L171.2,130.5 L170.5,132.5 L170.3,135.0 L170.2,159.0 L169.9,160.5 L169.5,160.9 L169.0,161.1"/>
<path d="M208.5,144.0 L207.5,144.2 L206.5,144.0 L205.0,143.2 L204.4,142.5 L203.8,141.5 L203.3,139.5 L203.4,137.5 L204.1,135.5 L205.5,134.0 L207.0,133.5 L208.5,133.6 L209.4,134.0 L210.1,134.5 L211.1,136.0 L211.7,138.0 L211.7,140.0 L211.0,141.9 L210.0,143.2 L208.5,144.0"/>
<path d="M178.5,113.5 L177.0,113.7 L176.0,113.3 L175.0,112.6 L174.0,111.5 L172.9,109.5 L171.7,106.0 L169.7,102.5 L169.3,101.0 L169.3,100.0 L169.6,99.0 L170.2,98.0 L171.1,97.0 L172.0,96.3 L173.5,95.6 L176.0,95.0 L177.5,94.9 L179.5,95.0 L181.0,95.4 L182.6,96.0 L184.0,96.8 L185.0,97.8 L185.8,99.0 L186.1,100.0 L186.0,101.5 L185.7,102.5 L183.4,106.0 L182.3,109.0 L181.5,110.7 L180.0,112.6 L178.5,113.5"/>
<path d="M208.0,140.5 L207.5,140.6 L207.0,140.5 L206.4,140.0 L206.0,139.0 L206.2,138.0 L206.5,137.5 L207.0,137.1 L207.5,137.0 L208.0,137.1 L208.5,137.5 L209.0,138.5 L208.9,139.5 L208.5,140.1 L208.0,140.5"/>
<path d="M178.5,109.5 L178.0,109.7 L177.0,109.7 L176.0,109.2 L175.5,108.7 L173.7,106.0 L171.0,103.0 L170.3,101.5 L170.3,100.5 L170.4,99.5 L171.3,98.0 L173.0,96.6 L175.0,95.9 L176.5,95.6 L178.5,95.6 L180.0,95.8 L181.5,96.3 L182.8,97.0 L184.0,98.0 L184.7,99.0 L185.0,99.9 L185.0,101.5 L184.3,103.0 L183.5,104.0 L181.3,106.0 L179.5,108.7 L178.5,109.5"/>
<path d="M179.0,105.6 L177.5,105.9 L176.0,105.6 L173.5,104.2 L172.2,103.0 L171.4,101.5 L171.3,100.0 L172.0,98.6 L173.0,97.6 L174.0,97.0 L175.5,96.5 L177.0,96.3 L178.5,96.3 L180.0,96.6 L181.1,97.0 L182.1,97.5 L183.2,98.5 L183.8,99.5 L184.0,100.5 L183.9,101.5 L183.4,102.5 L182.6,103.5 L181.5,104.3 L179.0,105.6"/>
<path d="M178.0,104.5 L176.5,104.4 L175.0,104.0 L173.5,103.0 L172.7,102.0 L172.4,100.5 L172.6,99.5 L173.3,98.5 L174.5,97.7 L176.5,97.1 L177.7,97.0 L179.0,97.1 L180.2,97.5 L181.2,98.0 L182.0,98.6 L182.6,99.5 L182.8,100.0 L182.9,101.0 L182.5,102.0 L182.0,102.7 L181.0,103.5 L180.1,104.0 L178.0,104.5"/>
<path d="M178.5,103.5 L176.5,103.5 L175.5,103.2 L174.4,102.5 L174.0,102.0 L173.6,101.0 L173.6,100.0 L174.2,99.0 L175.5,98.2 L177.5,97.8 L179.5,98.1 L180.9,99.0 L181.6,100.0 L181.7,100.5 L181.5,101.5 L180.5,102.7 L179.5,103.2 L178.5,103.5"/>
<path d="M178.5,102.5 L177.0,102.6 L175.5,102.0 L175.0,101.3 L174.8,100.5 L175.0,100.0 L175.3,99.5 L176.0,99.0 L177.5,98.7 L179.0,99.0 L179.8,99.5 L180.2,100.0 L180.3,101.0 L180.0,101.5 L179.6,102.0 L178.5,102.5"/>
<path d="M178.5,101.7 L177.5,101.9 L176.3,101.5 L175.9,101.0 L175.8,100.5 L176.0,100.0 L177.0,99.4 L178.0,99.4 L178.5,99.6 L179.0,100.0 L179.3,100.5 L179.2,101.0 L178.5,101.7"/>
</g></g>
<line x1="80.80" y1="59.50" x2="80.80" y2="155.50" stroke="#555" stroke-width="0.7"/>
<line x1="47.00" y1="125.10" x2="153.00" y2="125.10" stroke="#555" stroke-width="0.7"/>
<line x1="193.10" y1="59.50" x2="193.10" y2="155.00" stroke="#555" stroke-width="0.7"/>
<line x1="156.50" y1="120.60" x2="263.00" y2="120.60" stroke="#555" stroke-width="0.7"/>
<rect x="47" y="59.5" width="106" height="95.4" fill="none" stroke="#111" stroke-width="0.85"/>
<rect x="156.5" y="59.5" width="106.5" height="95.2" fill="none" stroke="#111" stroke-width="0.85"/>
<line x1="51.24" y1="155.20" x2="51.24" y2="157.10" stroke="#222" stroke-width="0.5"/>
<line x1="55.48" y1="155.20" x2="55.48" y2="157.10" stroke="#222" stroke-width="0.5"/>
<line x1="63.96" y1="155.20" x2="63.96" y2="157.10" stroke="#222" stroke-width="0.5"/>
<line x1="68.20" y1="155.20" x2="68.20" y2="157.10" stroke="#222" stroke-width="0.5"/>
<line x1="71.38" y1="155.20" x2="71.38" y2="157.10" stroke="#222" stroke-width="0.5"/>
<line x1="74.56" y1="155.20" x2="74.56" y2="157.10" stroke="#222" stroke-width="0.5"/>
<line x1="85.16" y1="155.20" x2="85.16" y2="157.10" stroke="#222" stroke-width="0.5"/>
<line x1="91.52" y1="155.20" x2="91.52" y2="157.10" stroke="#222" stroke-width="0.5"/>
<line x1="96.82" y1="155.20" x2="96.82" y2="157.10" stroke="#222" stroke-width="0.5"/>
<line x1="100.00" y1="155.20" x2="100.00" y2="157.10" stroke="#222" stroke-width="0.5"/>
<line x1="110.60" y1="155.20" x2="110.60" y2="157.10" stroke="#222" stroke-width="0.5"/>
<line x1="116.96" y1="155.20" x2="116.96" y2="157.10" stroke="#222" stroke-width="0.5"/>
<line x1="121.20" y1="155.20" x2="121.20" y2="157.10" stroke="#222" stroke-width="0.5"/>
<line x1="125.44" y1="155.20" x2="125.44" y2="157.10" stroke="#222" stroke-width="0.5"/>
<line x1="136.04" y1="155.20" x2="136.04" y2="157.10" stroke="#222" stroke-width="0.5"/>
<line x1="142.40" y1="155.20" x2="142.40" y2="157.10" stroke="#222" stroke-width="0.5"/>
<line x1="146.64" y1="155.20" x2="146.64" y2="157.10" stroke="#222" stroke-width="0.5"/>
<line x1="47.00" y1="150.70" x2="48.80" y2="150.70" stroke="#222" stroke-width="0.5"/>
<line x1="47.00" y1="145.90" x2="48.80" y2="145.90" stroke="#222" stroke-width="0.5"/>
<line x1="47.00" y1="136.30" x2="48.80" y2="136.30" stroke="#222" stroke-width="0.5"/>
<line x1="47.00" y1="130.54" x2="48.80" y2="130.54" stroke="#222" stroke-width="0.5"/>
<line x1="47.00" y1="126.70" x2="48.80" y2="126.70" stroke="#222" stroke-width="0.5"/>
<line x1="47.00" y1="122.86" x2="48.80" y2="122.86" stroke="#222" stroke-width="0.5"/>
<line x1="47.00" y1="113.26" x2="48.80" y2="113.26" stroke="#222" stroke-width="0.5"/>
<line x1="47.00" y1="107.50" x2="48.80" y2="107.50" stroke="#222" stroke-width="0.5"/>
<line x1="47.00" y1="102.70" x2="48.80" y2="102.70" stroke="#222" stroke-width="0.5"/>
<line x1="47.00" y1="97.90" x2="48.80" y2="97.90" stroke="#222" stroke-width="0.5"/>
<line x1="47.00" y1="88.30" x2="48.80" y2="88.30" stroke="#222" stroke-width="0.5"/>
<line x1="47.00" y1="82.54" x2="48.80" y2="82.54" stroke="#222" stroke-width="0.5"/>
<line x1="47.00" y1="78.70" x2="48.80" y2="78.70" stroke="#222" stroke-width="0.5"/>
<line x1="47.00" y1="74.86" x2="48.80" y2="74.86" stroke="#222" stroke-width="0.5"/>
<line x1="47.00" y1="65.26" x2="48.80" y2="65.26" stroke="#222" stroke-width="0.5"/>
<line x1="160.76" y1="154.70" x2="160.76" y2="156.60" stroke="#222" stroke-width="0.5"/>
<line x1="165.02" y1="154.70" x2="165.02" y2="156.60" stroke="#222" stroke-width="0.5"/>
<line x1="173.54" y1="154.70" x2="173.54" y2="156.60" stroke="#222" stroke-width="0.5"/>
<line x1="177.80" y1="154.70" x2="177.80" y2="156.60" stroke="#222" stroke-width="0.5"/>
<line x1="181.00" y1="154.70" x2="181.00" y2="156.60" stroke="#222" stroke-width="0.5"/>
<line x1="184.19" y1="154.70" x2="184.19" y2="156.60" stroke="#222" stroke-width="0.5"/>
<line x1="194.84" y1="154.70" x2="194.84" y2="156.60" stroke="#222" stroke-width="0.5"/>
<line x1="201.23" y1="154.70" x2="201.23" y2="156.60" stroke="#222" stroke-width="0.5"/>
<line x1="206.56" y1="154.70" x2="206.56" y2="156.60" stroke="#222" stroke-width="0.5"/>
<line x1="209.75" y1="154.70" x2="209.75" y2="156.60" stroke="#222" stroke-width="0.5"/>
<line x1="220.40" y1="154.70" x2="220.40" y2="156.60" stroke="#222" stroke-width="0.5"/>
<line x1="226.79" y1="154.70" x2="226.79" y2="156.60" stroke="#222" stroke-width="0.5"/>
<line x1="231.05" y1="154.70" x2="231.05" y2="156.60" stroke="#222" stroke-width="0.5"/>
<line x1="235.31" y1="154.70" x2="235.31" y2="156.60" stroke="#222" stroke-width="0.5"/>
<line x1="245.96" y1="154.70" x2="245.96" y2="156.60" stroke="#222" stroke-width="0.5"/>
<line x1="252.35" y1="154.70" x2="252.35" y2="156.60" stroke="#222" stroke-width="0.5"/>
<line x1="256.61" y1="154.70" x2="256.61" y2="156.60" stroke="#222" stroke-width="0.5"/>
<line x1="156.50" y1="150.20" x2="158.30" y2="150.20" stroke="#222" stroke-width="0.5"/>
<line x1="156.50" y1="145.40" x2="158.30" y2="145.40" stroke="#222" stroke-width="0.5"/>
<line x1="156.50" y1="135.80" x2="158.30" y2="135.80" stroke="#222" stroke-width="0.5"/>
<line x1="156.50" y1="130.04" x2="158.30" y2="130.04" stroke="#222" stroke-width="0.5"/>
<line x1="156.50" y1="126.20" x2="158.30" y2="126.20" stroke="#222" stroke-width="0.5"/>
<line x1="156.50" y1="122.36" x2="158.30" y2="122.36" stroke="#222" stroke-width="0.5"/>
<line x1="156.50" y1="112.76" x2="158.30" y2="112.76" stroke="#222" stroke-width="0.5"/>
<line x1="156.50" y1="107.00" x2="158.30" y2="107.00" stroke="#222" stroke-width="0.5"/>
<line x1="156.50" y1="102.20" x2="158.30" y2="102.20" stroke="#222" stroke-width="0.5"/>
<line x1="156.50" y1="97.40" x2="158.30" y2="97.40" stroke="#222" stroke-width="0.5"/>
<line x1="156.50" y1="87.80" x2="158.30" y2="87.80" stroke="#222" stroke-width="0.5"/>
<line x1="156.50" y1="82.04" x2="158.30" y2="82.04" stroke="#222" stroke-width="0.5"/>
<line x1="156.50" y1="78.20" x2="158.30" y2="78.20" stroke="#222" stroke-width="0.5"/>
<line x1="156.50" y1="74.36" x2="158.30" y2="74.36" stroke="#222" stroke-width="0.5"/>
<line x1="156.50" y1="64.76" x2="158.30" y2="64.76" stroke="#222" stroke-width="0.5"/>
<text x="53.00" y="69.60" text-anchor="start" font-size="8" >38.2</text>
<text x="148.10" y="69.60" text-anchor="end" font-size="8" >9.08</text>
<path d="M47.5,143.4 H70.8 V154.4 H47.5 Z" fill="#fff" stroke="#333" stroke-width="0.5"/>
<text x="52.30" y="150.60" text-anchor="start" font-size="8" >33.4</text>
<text x="147.60" y="150.60" text-anchor="end" font-size="8" >19.3</text>
<text x="160.90" y="69.60" text-anchor="start" font-size="8" >24.8</text>
<text x="256.00" y="69.60" text-anchor="end" font-size="8" >9.55</text>
<path d="M157,143.4 H176.1 V154.2 H157 Z" fill="#fff" stroke="#333" stroke-width="0.5"/>
<text x="158.40" y="150.60" text-anchor="start" font-size="8" >40.6</text>
<text x="254.80" y="150.60" text-anchor="end" font-size="8" >25.1</text>
<line x1="37.40" y1="163.00" x2="37.40" y2="124.00" stroke="#000000" stroke-width="1.2"/>
<line x1="36.80" y1="163.00" x2="81.00" y2="163.00" stroke="#000000" stroke-width="1.2"/>
<path d="M37.4,118.6 L34.5,125.2 L40.3,125.2 Z" fill="#000"/>
<path d="M86,163 L79.4,160.1 L79.4,165.9 Z" fill="#000"/>
<text transform="translate(40.60,101.50) rotate(-90)" text-anchor="middle" font-size="8.8">CXCR3</text>
<text x="89.00" y="167.40" text-anchor="start" font-size="8.0" >CCR6</text>
</g>
<g id="B">
<line x1="323.30" y1="45.00" x2="323.30" y2="147.35" stroke="#000000" stroke-width="1.1"/>
<line x1="322.75" y1="146.80" x2="473.00" y2="146.80" stroke="#000000" stroke-width="1.1"/>
<line x1="320.10" y1="146.80" x2="323.30" y2="146.80" stroke="#000000" stroke-width="1.0"/>
<text x="316.50" y="149.80" text-anchor="end" font-size="8.4" >0</text>
<line x1="320.10" y1="126.90" x2="323.30" y2="126.90" stroke="#000000" stroke-width="1.0"/>
<text x="316.50" y="129.90" text-anchor="end" font-size="8.4" >10</text>
<line x1="320.10" y1="107.00" x2="323.30" y2="107.00" stroke="#000000" stroke-width="1.0"/>
<text x="316.50" y="110.00" text-anchor="end" font-size="8.4" >20</text>
<line x1="320.10" y1="87.10" x2="323.30" y2="87.10" stroke="#000000" stroke-width="1.0"/>
<text x="316.50" y="90.10" text-anchor="end" font-size="8.4" >30</text>
<line x1="320.10" y1="67.20" x2="323.30" y2="67.20" stroke="#000000" stroke-width="1.0"/>
<text x="316.50" y="70.20" text-anchor="end" font-size="8.4" >40</text>
<line x1="320.10" y1="47.30" x2="323.30" y2="47.30" stroke="#000000" stroke-width="1.0"/>
<text x="316.50" y="50.30" text-anchor="end" font-size="8.4" >50</text>
<line x1="348.00" y1="146.80" x2="348.00" y2="150.00" stroke="#000000" stroke-width="1.0"/>
<line x1="397.50" y1="146.80" x2="397.50" y2="150.00" stroke="#000000" stroke-width="1.0"/>
<line x1="447.50" y1="146.80" x2="447.50" y2="150.00" stroke="#000000" stroke-width="1.0"/>
<line x1="340.12" y1="67.75" x2="340.12" y2="71.75" stroke="#000000" stroke-width="1.15"/>
<line x1="336.12" y1="67.75" x2="344.12" y2="67.75" stroke="#000000" stroke-width="1.35"/>
<rect x="334.50" y="70.75" width="11.25" height="76.05" fill="#c0c0c0"/>
<line x1="356.00" y1="78.50" x2="356.00" y2="82.75" stroke="#000000" stroke-width="1.15"/>
<line x1="352.25" y1="78.50" x2="359.75" y2="78.50" stroke="#000000" stroke-width="1.35"/>
<rect x="350.50" y="81.75" width="11.00" height="65.05" fill="#000000"/>
<line x1="390.12" y1="70.75" x2="390.12" y2="75.50" stroke="#000000" stroke-width="1.15"/>
<line x1="386.12" y1="70.75" x2="394.12" y2="70.75" stroke="#000000" stroke-width="1.35"/>
<rect x="384.50" y="74.50" width="11.25" height="72.30" fill="#c0c0c0"/>
<line x1="405.50" y1="58.25" x2="405.50" y2="65.25" stroke="#000000" stroke-width="1.15"/>
<line x1="401.75" y1="58.25" x2="409.25" y2="58.25" stroke="#000000" stroke-width="1.35"/>
<rect x="400.00" y="64.25" width="11.00" height="82.55" fill="#000000"/>
<line x1="439.50" y1="107.75" x2="439.50" y2="110.50" stroke="#000000" stroke-width="1.15"/>
<line x1="435.50" y1="107.75" x2="443.50" y2="107.75" stroke="#000000" stroke-width="1.35"/>
<rect x="434.00" y="109.50" width="11.00" height="37.30" fill="#c0c0c0"/>
<line x1="455.50" y1="100.50" x2="455.50" y2="105.50" stroke="#000000" stroke-width="1.15"/>
<line x1="451.75" y1="100.50" x2="459.25" y2="100.50" stroke="#000000" stroke-width="1.35"/>
<rect x="450.00" y="104.50" width="11.00" height="42.30" fill="#000000"/>
<path d="M336.25,48.75 V45.75 H356.25 V48.75" fill="none" stroke="#000000" stroke-width="1.2"/>
<text x="346.30" y="41.20" text-anchor="middle" font-size="8.1" word-spacing="0"><tspan font-style="italic">P</tspan> = .02</text>
<text x="348.00" y="160.20" text-anchor="middle" font-size="8.8" >Th1-like</text>
<text x="397.50" y="160.20" text-anchor="middle" font-size="8.8" >Th2-like</text>
<text x="447.50" y="160.20" text-anchor="middle" font-size="8.8" >Th17-like</text>
<text transform="translate(287.40,95.80) rotate(-90)" text-anchor="middle" font-size="9.1">Percentage in</text>
<text transform="translate(300.70,95.80) rotate(-90)" text-anchor="middle" font-size="9.1">CD4<tspan dy="-3.0" font-size="6.4">+</tspan><tspan dy="3.0" font-size="0.01">.</tspan>CXCR5<tspan dy="-3.0" font-size="6.4">+</tspan><tspan dy="3.0" font-size="0.01">.</tspan> T cells</text>
<rect x="466.25" y="45.00" width="11.00" height="6.25" fill="#c0c0c0"/>
<rect x="466.25" y="57.00" width="11.00" height="6.25" fill="#000000"/>
<text x="480.50" y="50.60" text-anchor="start" font-size="8.2" >HC</text>
<text x="480.50" y="62.60" text-anchor="start" font-size="8.2" >WAS</text>
</g>
<g id="C">
<line x1="59.10" y1="224.50" x2="59.10" y2="326.35" stroke="#000000" stroke-width="1.1"/>
<line x1="58.55" y1="325.80" x2="209.50" y2="325.80" stroke="#000000" stroke-width="1.1"/>
<line x1="55.90" y1="325.80" x2="59.10" y2="325.80" stroke="#000000" stroke-width="1.0"/>
<text x="52.30" y="328.80" text-anchor="end" font-size="8.4" >0</text>
<line x1="55.90" y1="292.70" x2="59.10" y2="292.70" stroke="#000000" stroke-width="1.0"/>
<text x="52.30" y="295.70" text-anchor="end" font-size="8.4" >20</text>
<line x1="55.90" y1="259.60" x2="59.10" y2="259.60" stroke="#000000" stroke-width="1.0"/>
<text x="52.30" y="262.60" text-anchor="end" font-size="8.4" >40</text>
<line x1="55.90" y1="226.50" x2="59.10" y2="226.50" stroke="#000000" stroke-width="1.0"/>
<text x="52.30" y="229.50" text-anchor="end" font-size="8.4" >60</text>
<line x1="83.75" y1="325.80" x2="83.75" y2="329.00" stroke="#000000" stroke-width="1.0"/>
<line x1="133.00" y1="325.80" x2="133.00" y2="329.00" stroke="#000000" stroke-width="1.0"/>
<line x1="181.50" y1="325.80" x2="181.50" y2="329.00" stroke="#000000" stroke-width="1.0"/>
<line x1="70.50" y1="262.50" x2="70.50" y2="266.00" stroke="#000000" stroke-width="1.15"/>
<line x1="67.50" y1="262.50" x2="73.50" y2="262.50" stroke="#000000" stroke-width="1.35"/>
<rect x="66.00" y="265.00" width="9.00" height="60.80" fill="#c0c0c0"/>
<line x1="83.75" y1="271.75" x2="83.75" y2="274.00" stroke="#000000" stroke-width="1.15"/>
<line x1="80.75" y1="271.75" x2="86.75" y2="271.75" stroke="#000000" stroke-width="1.35"/>
<rect x="79.25" y="273.00" width="9.00" height="52.80" fill="#666666"/>
<line x1="96.88" y1="274.00" x2="96.88" y2="282.25" stroke="#000000" stroke-width="1.15"/>
<line x1="93.88" y1="274.00" x2="99.88" y2="274.00" stroke="#000000" stroke-width="1.35"/>
<rect x="92.25" y="281.25" width="9.25" height="44.55" fill="#000000"/>
<line x1="119.12" y1="263.75" x2="119.12" y2="267.75" stroke="#000000" stroke-width="1.15"/>
<line x1="116.12" y1="263.75" x2="122.12" y2="263.75" stroke="#000000" stroke-width="1.35"/>
<rect x="114.50" y="266.75" width="9.25" height="59.05" fill="#c0c0c0"/>
<line x1="132.38" y1="251.50" x2="132.38" y2="256.75" stroke="#000000" stroke-width="1.15"/>
<line x1="129.38" y1="251.50" x2="135.38" y2="251.50" stroke="#000000" stroke-width="1.35"/>
<rect x="127.75" y="255.75" width="9.25" height="70.05" fill="#666666"/>
<line x1="145.88" y1="246.25" x2="145.88" y2="254.75" stroke="#000000" stroke-width="1.15"/>
<line x1="142.88" y1="246.25" x2="148.88" y2="246.25" stroke="#000000" stroke-width="1.35"/>
<rect x="141.25" y="253.75" width="9.25" height="72.05" fill="#000000"/>
<line x1="168.25" y1="293.50" x2="168.25" y2="296.50" stroke="#000000" stroke-width="1.15"/>
<line x1="165.25" y1="293.50" x2="171.25" y2="293.50" stroke="#000000" stroke-width="1.35"/>
<rect x="163.75" y="295.50" width="9.00" height="30.30" fill="#c0c0c0"/>
<line x1="181.50" y1="291.25" x2="181.50" y2="295.50" stroke="#000000" stroke-width="1.15"/>
<line x1="178.50" y1="291.25" x2="184.50" y2="291.25" stroke="#000000" stroke-width="1.35"/>
<rect x="177.00" y="294.50" width="9.00" height="31.30" fill="#666666"/>
<line x1="194.88" y1="279.50" x2="194.88" y2="286.00" stroke="#000000" stroke-width="1.15"/>
<line x1="191.88" y1="279.50" x2="197.88" y2="279.50" stroke="#000000" stroke-width="1.35"/>
<rect x="190.25" y="285.00" width="9.25" height="40.80" fill="#000000"/>
<path d="M68.00,216.75 V213.75 H98.00 V216.75" fill="none" stroke="#000000" stroke-width="1.2"/>
<text x="83.00" y="208.70" text-anchor="middle" font-size="8.1" word-spacing="0"><tspan font-style="italic">P</tspan> = .03</text>
<path d="M69.50,236.00 V233.00 H85.00 V236.00" fill="none" stroke="#000000" stroke-width="1.2"/>
<text x="77.50" y="228.00" text-anchor="middle" font-size="8.1" word-spacing="0"><tspan font-style="italic">P</tspan> = .006</text>
<path d="M118.00,236.00 V233.00 H133.75 V236.00" fill="none" stroke="#000000" stroke-width="1.2"/>
<text x="126.30" y="228.00" text-anchor="middle" font-size="8.1" word-spacing="0"><tspan font-style="italic">P</tspan> = .03</text>
<path d="M165.00,236.00 V233.00 H194.50 V236.00" fill="none" stroke="#000000" stroke-width="1.2"/>
<text x="180.00" y="228.00" text-anchor="middle" font-size="8.1" word-spacing="0"><tspan font-style="italic">P</tspan> = .03</text>
<text x="83.75" y="339.40" text-anchor="middle" font-size="8.8" >Th1-like</text>
<text x="133.00" y="339.40" text-anchor="middle" font-size="8.8" >Th2-like</text>
<text x="181.50" y="339.40" text-anchor="middle" font-size="8.8" >Th17-like</text>
<text transform="translate(24.20,274.80) rotate(-90)" text-anchor="middle" font-size="9.1">Percentage in</text>
<text transform="translate(37.00,274.80) rotate(-90)" text-anchor="middle" font-size="9.1">CD4<tspan dy="-3.0" font-size="6.4">+</tspan><tspan dy="3.0" font-size="0.01">.</tspan>CXCR5<tspan dy="-3.0" font-size="6.4">+</tspan><tspan dy="3.0" font-size="0.01">.</tspan> T cells</text>
<rect x="206.25" y="239.75" width="11.25" height="5.50" fill="#c0c0c0"/>
<rect x="206.25" y="251.90" width="11.25" height="5.60" fill="#666666"/>
<rect x="206.25" y="264.00" width="11.25" height="5.50" fill="#000000"/>
<text x="220.75" y="245.00" text-anchor="start" font-size="8.2" >HC</text>
<text x="220.75" y="257.30" text-anchor="start" font-size="8.2" >WAS(3-4)</text>
<text x="220.75" y="269.30" text-anchor="start" font-size="8.2" >WAS(5A)</text>
</g>
<g id="D">
<line x1="319.30" y1="225.50" x2="319.30" y2="326.35" stroke="#000000" stroke-width="1.1"/>
<line x1="318.75" y1="325.80" x2="468.75" y2="325.80" stroke="#000000" stroke-width="1.1"/>
<line x1="316.10" y1="325.80" x2="319.30" y2="325.80" stroke="#000000" stroke-width="1.0"/>
<text x="312.50" y="328.80" text-anchor="end" font-size="8.4" >0</text>
<line x1="316.10" y1="306.25" x2="319.30" y2="306.25" stroke="#000000" stroke-width="1.0"/>
<text x="312.50" y="309.25" text-anchor="end" font-size="8.4" >10</text>
<line x1="316.10" y1="286.70" x2="319.30" y2="286.70" stroke="#000000" stroke-width="1.0"/>
<text x="312.50" y="289.70" text-anchor="end" font-size="8.4" >20</text>
<line x1="316.10" y1="267.15" x2="319.30" y2="267.15" stroke="#000000" stroke-width="1.0"/>
<text x="312.50" y="270.15" text-anchor="end" font-size="8.4" >30</text>
<line x1="316.10" y1="247.60" x2="319.30" y2="247.60" stroke="#000000" stroke-width="1.0"/>
<text x="312.50" y="250.60" text-anchor="end" font-size="8.4" >40</text>
<line x1="316.10" y1="228.05" x2="319.30" y2="228.05" stroke="#000000" stroke-width="1.0"/>
<text x="312.50" y="231.05" text-anchor="end" font-size="8.4" >50</text>
<line x1="341.25" y1="325.80" x2="341.25" y2="329.00" stroke="#000000" stroke-width="1.0"/>
<line x1="387.40" y1="325.80" x2="387.40" y2="329.00" stroke="#000000" stroke-width="1.0"/>
<line x1="432.50" y1="325.80" x2="432.50" y2="329.00" stroke="#000000" stroke-width="1.0"/>
<line x1="326.50" y1="248.75" x2="326.50" y2="252.75" stroke="#000000" stroke-width="1.15"/>
<line x1="324.25" y1="248.75" x2="328.75" y2="248.75" stroke="#000000" stroke-width="1.35"/>
<rect x="323.25" y="251.75" width="6.50" height="74.05" fill="#c0c0c0"/>
<line x1="336.38" y1="248.75" x2="336.38" y2="255.50" stroke="#000000" stroke-width="1.15"/>
<line x1="334.12" y1="248.75" x2="338.62" y2="248.75" stroke="#000000" stroke-width="1.35"/>
<rect x="333.00" y="254.50" width="6.75" height="71.30" fill="#808080"/>
<line x1="346.38" y1="262.00" x2="346.38" y2="268.25" stroke="#000000" stroke-width="1.15"/>
<line x1="344.12" y1="262.00" x2="348.62" y2="262.00" stroke="#000000" stroke-width="1.35"/>
<rect x="343.00" y="267.25" width="6.75" height="58.55" fill="#000000"/>
<rect x="353.00" y="258.25" width="6.50" height="67.55" fill="#404040"/>
<line x1="372.62" y1="251.25" x2="372.62" y2="256.00" stroke="#000000" stroke-width="1.15"/>
<line x1="370.38" y1="251.25" x2="374.88" y2="251.25" stroke="#000000" stroke-width="1.35"/>
<rect x="369.25" y="255.00" width="6.75" height="70.80" fill="#c0c0c0"/>
<line x1="382.38" y1="238.25" x2="382.38" y2="246.00" stroke="#000000" stroke-width="1.15"/>
<line x1="380.12" y1="238.25" x2="384.62" y2="238.25" stroke="#000000" stroke-width="1.35"/>
<rect x="379.00" y="245.00" width="6.75" height="80.80" fill="#808080"/>
<line x1="392.25" y1="232.50" x2="392.25" y2="240.25" stroke="#000000" stroke-width="1.15"/>
<line x1="390.00" y1="232.50" x2="394.50" y2="232.50" stroke="#000000" stroke-width="1.35"/>
<rect x="389.00" y="239.25" width="6.50" height="86.55" fill="#000000"/>
<rect x="398.75" y="239.75" width="6.75" height="86.05" fill="#404040"/>
<line x1="417.75" y1="288.25" x2="417.75" y2="291.00" stroke="#000000" stroke-width="1.15"/>
<line x1="415.50" y1="288.25" x2="420.00" y2="288.25" stroke="#000000" stroke-width="1.35"/>
<rect x="414.50" y="290.00" width="6.50" height="35.80" fill="#c0c0c0"/>
<line x1="427.50" y1="283.75" x2="427.50" y2="291.50" stroke="#000000" stroke-width="1.15"/>
<line x1="425.25" y1="283.75" x2="429.75" y2="283.75" stroke="#000000" stroke-width="1.35"/>
<rect x="424.25" y="290.50" width="6.50" height="35.30" fill="#808080"/>
<line x1="437.38" y1="282.00" x2="437.38" y2="287.75" stroke="#000000" stroke-width="1.15"/>
<line x1="435.12" y1="282.00" x2="439.62" y2="282.00" stroke="#000000" stroke-width="1.35"/>
<rect x="434.00" y="286.75" width="6.75" height="39.05" fill="#000000"/>
<rect x="444.00" y="292.50" width="6.75" height="33.30" fill="#404040"/>
<path d="M326.25,222.50 V219.50 H346.25 V222.50" fill="none" stroke="#000000" stroke-width="1.2"/>
<text x="336.30" y="214.40" text-anchor="middle" font-size="8.1" word-spacing="0"><tspan font-style="italic">P</tspan> = .01</text>
<path d="M371.75,222.50 V219.50 H391.75 V222.50" fill="none" stroke="#000000" stroke-width="1.2"/>
<text x="381.80" y="214.20" text-anchor="middle" font-size="8.1" word-spacing="0"><tspan font-style="italic">P</tspan> = .03</text>
<text x="341.25" y="339.40" text-anchor="middle" font-size="8.8" >Th1-like</text>
<text x="387.40" y="339.40" text-anchor="middle" font-size="8.8" >Th2-like</text>
<text x="432.50" y="339.40" text-anchor="middle" font-size="8.8" >Th17-like</text>
<text transform="translate(283.60,275.00) rotate(-90)" text-anchor="middle" font-size="9.1">Percentage in</text>
<text transform="translate(296.60,275.00) rotate(-90)" text-anchor="middle" font-size="9.1">CD4<tspan dy="-3.0" font-size="6.4">+</tspan><tspan dy="3.0" font-size="0.01">.</tspan>CXCR5<tspan dy="-3.0" font-size="6.4">+</tspan><tspan dy="3.0" font-size="0.01">.</tspan> T cells</text>
<rect x="457.50" y="217.00" width="11.25" height="5.50" fill="#c0c0c0"/>
<text x="472.00" y="222.40" text-anchor="start" font-size="8.2" >HC</text>
<rect x="457.50" y="229.25" width="11.25" height="5.50" fill="#808080"/>
<text x="472.00" y="234.65" text-anchor="start" font-size="8.2" >WASP+</text>
<rect x="457.50" y="241.25" width="11.25" height="5.75" fill="#000000"/>
<text x="472.00" y="246.90" text-anchor="start" font-size="8.2" >WASP-</text>
<rect x="457.50" y="253.75" width="11.25" height="5.50" fill="#404040"/>
<text x="472.00" y="259.15" text-anchor="start" font-size="8.2" >WASP(DP)</text>
</g>
<g id="E">
<line x1="53.70" y1="392.80" x2="53.70" y2="520.15" stroke="#000000" stroke-width="1.1"/>
<line x1="53.15" y1="519.60" x2="134.60" y2="519.60" stroke="#000000" stroke-width="1.1"/>
<line x1="50.50" y1="519.60" x2="53.70" y2="519.60" stroke="#000000" stroke-width="1.0"/>
<text x="46.90" y="522.60" text-anchor="end" font-size="8.4" >0.0</text>
<line x1="50.50" y1="494.82" x2="53.70" y2="494.82" stroke="#000000" stroke-width="1.0"/>
<text x="46.90" y="497.82" text-anchor="end" font-size="8.4" >0.5</text>
<line x1="50.50" y1="470.04" x2="53.70" y2="470.04" stroke="#000000" stroke-width="1.0"/>
<text x="46.90" y="473.04" text-anchor="end" font-size="8.4" >1.0</text>
<line x1="50.50" y1="445.26" x2="53.70" y2="445.26" stroke="#000000" stroke-width="1.0"/>
<text x="46.90" y="448.26" text-anchor="end" font-size="8.4" >1.5</text>
<line x1="50.50" y1="420.48" x2="53.70" y2="420.48" stroke="#000000" stroke-width="1.0"/>
<text x="46.90" y="423.48" text-anchor="end" font-size="8.4" >2.0</text>
<line x1="50.50" y1="395.70" x2="53.70" y2="395.70" stroke="#000000" stroke-width="1.0"/>
<text x="46.90" y="398.70" text-anchor="end" font-size="8.4" >2.5</text>
<line x1="75.00" y1="519.60" x2="75.00" y2="522.80" stroke="#000000" stroke-width="1.0"/>
<line x1="116.30" y1="519.60" x2="116.30" y2="522.80" stroke="#000000" stroke-width="1.0"/>
<line x1="75.15" y1="437.50" x2="75.15" y2="443.90" stroke="#000000" stroke-width="1.15"/>
<line x1="68.65" y1="437.50" x2="81.65" y2="437.50" stroke="#000000" stroke-width="1.35"/>
<rect x="64.10" y="442.90" width="22.10" height="76.70" fill="#c0c0c0"/>
<line x1="116.20" y1="403.90" x2="116.20" y2="416.50" stroke="#000000" stroke-width="1.15"/>
<line x1="109.70" y1="403.90" x2="122.70" y2="403.90" stroke="#000000" stroke-width="1.35"/>
<rect x="105.00" y="415.50" width="22.40" height="104.10" fill="#000000"/>
<path d="M74.90,391.20 V388.20 H116.30 V391.20" fill="none" stroke="#000000" stroke-width="1.2"/>
<text x="95.60" y="382.40" text-anchor="middle" font-size="8.1" word-spacing="0"><tspan font-style="italic">P</tspan> = .02</text>
<text x="75.00" y="532.60" text-anchor="middle" font-size="8.8" >HC</text>
<text x="116.30" y="532.60" text-anchor="middle" font-size="8.8" >WAS</text>
<text transform="translate(16.90,455.40) rotate(-90)" text-anchor="middle" font-size="9.4">Ratio of</text>
<text transform="translate(29.80,455.40) rotate(-90)" text-anchor="middle" font-size="9.4">CXCR5<tspan dy="-3.0" font-size="6.4">+</tspan><tspan dy="3.0" font-size="0.01">.</tspan> (Th2+Th17)/Th1</text>
</g>
<g id="F">
<line x1="193.60" y1="398.00" x2="193.60" y2="520.15" stroke="#000000" stroke-width="1.1"/>
<line x1="193.05" y1="519.60" x2="319.00" y2="519.60" stroke="#000000" stroke-width="1.1"/>
<line x1="190.40" y1="519.60" x2="193.60" y2="519.60" stroke="#000000" stroke-width="1.0"/>
<text x="186.80" y="522.60" text-anchor="end" font-size="8.4" >0</text>
<line x1="190.40" y1="495.93" x2="193.60" y2="495.93" stroke="#000000" stroke-width="1.0"/>
<text x="186.80" y="498.93" text-anchor="end" font-size="8.4" >1</text>
<line x1="190.40" y1="472.26" x2="193.60" y2="472.26" stroke="#000000" stroke-width="1.0"/>
<text x="186.80" y="475.26" text-anchor="end" font-size="8.4" >2</text>
<line x1="190.40" y1="448.59" x2="193.60" y2="448.59" stroke="#000000" stroke-width="1.0"/>
<text x="186.80" y="451.59" text-anchor="end" font-size="8.4" >3</text>
<line x1="190.40" y1="424.92" x2="193.60" y2="424.92" stroke="#000000" stroke-width="1.0"/>
<text x="186.80" y="427.92" text-anchor="end" font-size="8.4" >4</text>
<line x1="190.40" y1="401.25" x2="193.60" y2="401.25" stroke="#000000" stroke-width="1.0"/>
<text x="186.80" y="404.25" text-anchor="end" font-size="8.4" >5</text>
<line x1="213.50" y1="519.60" x2="213.50" y2="522.80" stroke="#000000" stroke-width="1.0"/>
<line x1="256.00" y1="519.60" x2="256.00" y2="522.80" stroke="#000000" stroke-width="1.0"/>
<line x1="298.60" y1="519.60" x2="298.60" y2="522.80" stroke="#000000" stroke-width="1.0"/>
<line x1="213.50" y1="467.50" x2="213.50" y2="483.00" stroke="#000000" stroke-width="1.15"/>
<line x1="207.50" y1="467.50" x2="219.50" y2="467.50" stroke="#000000" stroke-width="1.35"/>
<rect x="203.00" y="482.00" width="21.00" height="37.60" fill="#c0c0c0"/>
<line x1="256.12" y1="465.00" x2="256.12" y2="474.75" stroke="#000000" stroke-width="1.15"/>
<line x1="250.12" y1="465.00" x2="262.12" y2="465.00" stroke="#000000" stroke-width="1.35"/>
<rect x="245.50" y="473.75" width="21.25" height="45.85" fill="#666666"/>
<line x1="298.60" y1="422.10" x2="298.60" y2="454.20" stroke="#000000" stroke-width="1.15"/>
<line x1="292.60" y1="422.10" x2="304.60" y2="422.10" stroke="#000000" stroke-width="1.35"/>
<rect x="288.00" y="453.20" width="21.20" height="66.40" fill="#000000"/>
<path d="M214.00,391.20 V388.20 H256.25 V391.20" fill="none" stroke="#000000" stroke-width="1.2"/>
<text x="235.00" y="382.20" text-anchor="middle" font-size="8.1" word-spacing="0"><tspan font-style="italic">P</tspan> = .003</text>
<text x="213.30" y="532.50" text-anchor="middle" font-size="8.8" >HC</text>
<text x="257.00" y="532.50" text-anchor="middle" font-size="8.8" >WAS(3+4)</text>
<text x="298.60" y="532.50" text-anchor="middle" font-size="8.8" >WAS(5A)</text>
<text transform="translate(163.80,458.90) rotate(-90)" text-anchor="middle" font-size="9.1">Ratio of</text>
<text transform="translate(175.80,458.90) rotate(-90)" text-anchor="middle" font-size="9.1">CXCR5<tspan dy="-3.0" font-size="6.4">+</tspan><tspan dy="3.0" font-size="0.01">.</tspan> (Th2+Th17)/Th1</text>
</g>
<g id="G">
<line x1="374.10" y1="397.30" x2="374.10" y2="520.05" stroke="#000000" stroke-width="1.1"/>
<line x1="373.55" y1="519.50" x2="499.20" y2="519.50" stroke="#000000" stroke-width="1.1"/>
<line x1="370.90" y1="519.50" x2="374.10" y2="519.50" stroke="#000000" stroke-width="1.0"/>
<text x="367.30" y="522.50" text-anchor="end" font-size="8.4" >0</text>
<line x1="370.90" y1="480.10" x2="374.10" y2="480.10" stroke="#000000" stroke-width="1.0"/>
<text x="367.30" y="483.10" text-anchor="end" font-size="8.4" >1</text>
<line x1="370.90" y1="440.70" x2="374.10" y2="440.70" stroke="#000000" stroke-width="1.0"/>
<text x="367.30" y="443.70" text-anchor="end" font-size="8.4" >2</text>
<line x1="370.90" y1="401.30" x2="374.10" y2="401.30" stroke="#000000" stroke-width="1.0"/>
<text x="367.30" y="404.30" text-anchor="end" font-size="8.4" >3</text>
<line x1="388.50" y1="519.50" x2="388.50" y2="522.70" stroke="#000000" stroke-width="1.0"/>
<line x1="417.00" y1="519.50" x2="417.00" y2="522.70" stroke="#000000" stroke-width="1.0"/>
<line x1="445.60" y1="519.50" x2="445.60" y2="522.70" stroke="#000000" stroke-width="1.0"/>
<line x1="474.20" y1="519.50" x2="474.20" y2="522.70" stroke="#000000" stroke-width="1.0"/>
<line x1="388.75" y1="453.75" x2="388.75" y2="459.00" stroke="#000000" stroke-width="1.15"/>
<line x1="384.50" y1="453.75" x2="393.00" y2="453.75" stroke="#000000" stroke-width="1.35"/>
<rect x="380.50" y="458.00" width="16.50" height="61.50" fill="#c0c0c0"/>
<line x1="416.95" y1="443.00" x2="416.95" y2="452.25" stroke="#000000" stroke-width="1.15"/>
<line x1="412.70" y1="443.00" x2="421.20" y2="443.00" stroke="#000000" stroke-width="1.35"/>
<rect x="408.70" y="451.25" width="16.50" height="68.25" fill="#808080"/>
<line x1="445.45" y1="412.50" x2="445.45" y2="425.50" stroke="#000000" stroke-width="1.15"/>
<line x1="441.20" y1="412.50" x2="449.70" y2="412.50" stroke="#000000" stroke-width="1.35"/>
<rect x="437.00" y="424.50" width="16.90" height="95.00" fill="#000000"/>
<rect x="465.60" y="450.20" width="16.80" height="69.30" fill="#404040"/>
<path d="M388.75,398.00 V395.00 H445.00 V398.00" fill="none" stroke="#000000" stroke-width="1.2"/>
<text x="417.00" y="389.80" text-anchor="middle" font-size="8.1" word-spacing="0"><tspan font-style="italic">P</tspan> = .01</text>
<text transform="translate(393.90,530.40) rotate(-45)" text-anchor="end" font-size="8.8">HC</text>
<text transform="translate(422.40,530.40) rotate(-45)" text-anchor="end" font-size="8.8">WASP+</text>
<text transform="translate(451.00,530.40) rotate(-45)" text-anchor="end" font-size="8.8">WASP-</text>
<text transform="translate(479.60,530.40) rotate(-45)" text-anchor="end" font-size="8.8">WASP(DP)</text>
<text transform="translate(343.60,459.10) rotate(-90)" text-anchor="middle" font-size="9.2">Ratio of</text>
<text transform="translate(356.80,459.10) rotate(-90)" text-anchor="middle" font-size="9.2">CXCR5<tspan dy="-3.0" font-size="6.4">+</tspan><tspan dy="3.0" font-size="0.01">.</tspan> (Th2+Th17)/Th1</text>
</g>
<g id="H">
<line x1="86.30" y1="609.00" x2="86.30" y2="744.25" stroke="#000000" stroke-width="1.1"/>
<line x1="85.75" y1="743.70" x2="284.40" y2="743.70" stroke="#000000" stroke-width="1.1"/>
<line x1="83.10" y1="743.70" x2="86.30" y2="743.70" stroke="#000000" stroke-width="1.0"/>
<text x="79.50" y="746.70" text-anchor="end" font-size="8.4" >0</text>
<line x1="83.10" y1="699.70" x2="86.30" y2="699.70" stroke="#000000" stroke-width="1.0"/>
<text x="79.50" y="702.70" text-anchor="end" font-size="8.4" >20</text>
<line x1="83.10" y1="655.70" x2="86.30" y2="655.70" stroke="#000000" stroke-width="1.0"/>
<text x="79.50" y="658.70" text-anchor="end" font-size="8.4" >40</text>
<line x1="83.10" y1="611.70" x2="86.30" y2="611.70" stroke="#000000" stroke-width="1.0"/>
<text x="79.50" y="614.70" text-anchor="end" font-size="8.4" >60</text>
<line x1="102.30" y1="743.70" x2="102.30" y2="746.90" stroke="#000000" stroke-width="1.0"/>
<line x1="125.75" y1="743.70" x2="125.75" y2="746.90" stroke="#000000" stroke-width="1.0"/>
<line x1="173.45" y1="743.70" x2="173.45" y2="746.90" stroke="#000000" stroke-width="1.0"/>
<line x1="196.75" y1="743.70" x2="196.75" y2="746.90" stroke="#000000" stroke-width="1.0"/>
<line x1="244.70" y1="743.70" x2="244.70" y2="746.90" stroke="#000000" stroke-width="1.0"/>
<line x1="268.10" y1="743.70" x2="268.10" y2="746.90" stroke="#000000" stroke-width="1.0"/>
<line x1="102.32" y1="648.10" x2="102.32" y2="661.20" stroke="#000000" stroke-width="1.15"/>
<line x1="97.82" y1="648.10" x2="106.82" y2="648.10" stroke="#000000" stroke-width="1.35"/>
<rect x="93.85" y="660.20" width="16.95" height="83.50" fill="#c0c0c0"/>
<line x1="125.75" y1="670.40" x2="125.75" y2="680.60" stroke="#000000" stroke-width="1.15"/>
<line x1="121.25" y1="670.40" x2="130.25" y2="670.40" stroke="#000000" stroke-width="1.35"/>
<rect x="117.30" y="679.60" width="16.90" height="64.10" fill="#000000"/>
<line x1="173.45" y1="645.90" x2="173.45" y2="650.40" stroke="#000000" stroke-width="1.15"/>
<line x1="168.95" y1="645.90" x2="177.95" y2="645.90" stroke="#000000" stroke-width="1.35"/>
<rect x="164.80" y="649.40" width="17.30" height="94.30" fill="#c0c0c0"/>
<line x1="196.75" y1="615.20" x2="196.75" y2="624.30" stroke="#000000" stroke-width="1.15"/>
<line x1="192.25" y1="615.20" x2="201.25" y2="615.20" stroke="#000000" stroke-width="1.35"/>
<rect x="188.30" y="623.30" width="16.90" height="120.40" fill="#000000"/>
<line x1="244.70" y1="706.50" x2="244.70" y2="714.50" stroke="#000000" stroke-width="1.15"/>
<line x1="240.20" y1="706.50" x2="249.20" y2="706.50" stroke="#000000" stroke-width="1.35"/>
<rect x="236.20" y="713.50" width="17.00" height="30.20" fill="#c0c0c0"/>
<line x1="268.10" y1="714.60" x2="268.10" y2="719.10" stroke="#000000" stroke-width="1.15"/>
<line x1="263.60" y1="714.60" x2="272.60" y2="714.60" stroke="#000000" stroke-width="1.35"/>
<rect x="259.60" y="718.10" width="17.00" height="25.60" fill="#000000"/>
<path d="M99.20,610.90 V607.90 H126.70 V610.90" fill="none" stroke="#000000" stroke-width="1.2"/>
<text x="113.20" y="602.40" text-anchor="middle" font-size="8.1" word-spacing="0"><tspan font-style="italic">P</tspan> = .04</text>
<path d="M169.40,610.90 V607.90 H196.90 V610.90" fill="none" stroke="#000000" stroke-width="1.2"/>
<text x="182.90" y="602.40" text-anchor="middle" font-size="8.1" word-spacing="0"><tspan font-style="italic">P</tspan> = .001</text>
<text x="114.00" y="757.50" text-anchor="middle" font-size="8.8" >Th1-like</text>
<text x="185.00" y="757.50" text-anchor="middle" font-size="8.8" >Th2-like</text>
<text x="256.40" y="757.50" text-anchor="middle" font-size="8.8" >Th17-like</text>
<text transform="translate(63.70,675.90) rotate(-90)" text-anchor="middle" font-size="9.2">Percentage in CD4<tspan dy="-3.0" font-size="6.4">+</tspan><tspan dy="3.0" font-size="0.01">.</tspan>CXCR5<tspan dy="-3.0" font-size="6.4">+</tspan><tspan dy="3.0" font-size="0.01">.</tspan> T cells</text>
<rect x="232.70" y="619.00" width="11.30" height="6.20" fill="#c0c0c0"/>
<rect x="232.70" y="631.90" width="11.30" height="6.00" fill="#000000"/>
<text x="247.00" y="624.90" text-anchor="start" font-size="8.2" >WT</text>
<text x="247.00" y="637.40" text-anchor="start" font-size="8.2" >WASKO</text>
</g>
<g id="I">
<line x1="333.90" y1="610.40" x2="333.90" y2="744.25" stroke="#000000" stroke-width="1.1"/>
<line x1="333.35" y1="743.70" x2="422.00" y2="743.70" stroke="#000000" stroke-width="1.1"/>
<line x1="330.70" y1="743.70" x2="333.90" y2="743.70" stroke="#000000" stroke-width="1.0"/>
<text x="327.10" y="746.70" text-anchor="end" font-size="8.4" >0</text>
<line x1="330.70" y1="700.15" x2="333.90" y2="700.15" stroke="#000000" stroke-width="1.0"/>
<text x="327.10" y="703.15" text-anchor="end" font-size="8.4" >1</text>
<line x1="330.70" y1="656.60" x2="333.90" y2="656.60" stroke="#000000" stroke-width="1.0"/>
<text x="327.10" y="659.60" text-anchor="end" font-size="8.4" >2</text>
<line x1="330.70" y1="613.05" x2="333.90" y2="613.05" stroke="#000000" stroke-width="1.0"/>
<text x="327.10" y="616.05" text-anchor="end" font-size="8.4" >3</text>
<line x1="355.40" y1="743.70" x2="355.40" y2="746.90" stroke="#000000" stroke-width="1.0"/>
<line x1="398.20" y1="743.70" x2="398.20" y2="746.90" stroke="#000000" stroke-width="1.0"/>
<line x1="355.27" y1="662.40" x2="355.27" y2="677.90" stroke="#000000" stroke-width="1.15"/>
<line x1="349.02" y1="662.40" x2="361.52" y2="662.40" stroke="#000000" stroke-width="1.35"/>
<rect x="343.85" y="676.90" width="22.85" height="66.80" fill="#c0c0c0"/>
<line x1="398.35" y1="619.80" x2="398.35" y2="642.40" stroke="#000000" stroke-width="1.15"/>
<line x1="392.10" y1="619.80" x2="404.60" y2="619.80" stroke="#000000" stroke-width="1.35"/>
<rect x="386.90" y="641.40" width="22.90" height="102.30" fill="#000000"/>
<path d="M350.60,608.00 V605.00 H401.20 V608.00" fill="none" stroke="#000000" stroke-width="1.2"/>
<text x="376.20" y="599.60" text-anchor="middle" font-size="8.1" word-spacing="0"><tspan font-style="italic">P</tspan> = .04</text>
<text x="355.20" y="757.50" text-anchor="middle" font-size="8.8" >WT</text>
<text x="398.20" y="757.50" text-anchor="middle" font-size="8.8" >WASKO</text>
<text transform="translate(315.30,677.40) rotate(-90)" text-anchor="middle" font-size="9.2">Ratio of CXCR5<tspan dy="-3.0" font-size="6.4">+</tspan><tspan dy="3.0" font-size="0.01">.</tspan> (Th2+Th17)/Th1</text>
</g>
</svg></body></html>
